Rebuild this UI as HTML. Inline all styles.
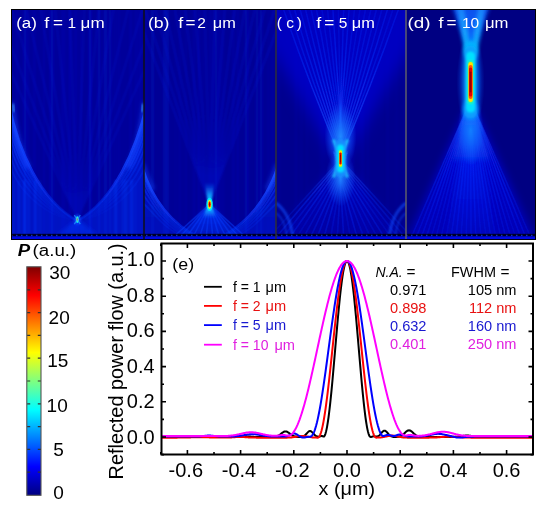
<!DOCTYPE html>
<html><head><meta charset="utf-8"><style>
html,body{margin:0;padding:0;background:#fff;width:550px;height:505px;overflow:hidden}
svg{display:block}
text{font-family:"Liberation Sans",sans-serif}
</style></head><body>
<svg width="550" height="505" viewBox="0 0 550 505">
<defs>
<linearGradient id="jet" x1="0" y1="1" x2="0" y2="0">
<stop offset="0" stop-color="#000080"/>
<stop offset="0.125" stop-color="#0000ff"/>
<stop offset="0.375" stop-color="#00ffff"/>
<stop offset="0.625" stop-color="#ffff00"/>
<stop offset="0.875" stop-color="#ff0000"/>
<stop offset="1" stop-color="#800000"/>
</linearGradient>
<filter id="b1" x="-50%" y="-50%" width="200%" height="200%"><feGaussianBlur stdDeviation="1"/></filter>
<filter id="b2" x="-50%" y="-50%" width="200%" height="200%"><feGaussianBlur stdDeviation="2"/></filter>
<filter id="b4" x="-50%" y="-50%" width="200%" height="200%"><feGaussianBlur stdDeviation="4"/></filter>
<filter id="b8" x="-50%" y="-50%" width="200%" height="200%"><feGaussianBlur stdDeviation="8"/></filter>
<filter id="b05" x="-50%" y="-50%" width="200%" height="200%"><feGaussianBlur stdDeviation="0.5"/></filter>
<pattern id="stripes" x="0" y="0" width="7" height="10" patternUnits="userSpaceOnUse"><rect x="0" y="0" width="2" height="10" fill="#0010c8"/><rect x="4" y="0" width="1" height="10" fill="#0008b8"/></pattern>
<pattern id="dots" x="0" y="0" width="5" height="3" patternUnits="userSpaceOnUse"><rect x="0" y="0" width="5" height="3" fill="#000028"/><rect x="1" y="0.8" width="1.5" height="1.4" fill="#1030c0"/></pattern>
<clipPath id="ca"><rect x="12" y="10" width="132" height="229"/></clipPath>
<clipPath id="cb"><rect x="144" y="10" width="132" height="229"/></clipPath>
<clipPath id="cc"><rect x="276" y="10" width="130" height="229"/></clipPath>
<clipPath id="cd"><rect x="406" y="10" width="129" height="229"/></clipPath>
</defs>

<defs><linearGradient id="ga_v" gradientUnits="userSpaceOnUse" x1="0" y1="100" x2="0" y2="220"><stop offset="0" stop-color="#2050ff" stop-opacity="1"/><stop offset="0.55" stop-color="#1040ff" stop-opacity="0.75"/><stop offset="1" stop-color="#0838ff" stop-opacity="0.15"/></linearGradient><linearGradient id="ga_f" gradientUnits="userSpaceOnUse" x1="0" y1="110" x2="0" y2="236"><stop offset="0" stop-color="#0830ff" stop-opacity="0.4"/><stop offset="1" stop-color="#0830ff" stop-opacity="0.4"/></linearGradient><linearGradient id="ga_c" gradientUnits="userSpaceOnUse" x1="77.3" y1="219.6" x2="77.3" y2="236"><stop offset="0" stop-color="#0838ff" stop-opacity="0.7"/><stop offset="1" stop-color="#0838ff" stop-opacity="0.3"/></linearGradient><linearGradient id="gb_v" gradientUnits="userSpaceOnUse" x1="0" y1="165" x2="0" y2="236"><stop offset="0" stop-color="#2050ff" stop-opacity="1"/><stop offset="0.6" stop-color="#1040ff" stop-opacity="0.7"/><stop offset="1" stop-color="#0838ff" stop-opacity="0.35"/></linearGradient><linearGradient id="gb_f" gradientUnits="userSpaceOnUse" x1="0" y1="170" x2="0" y2="236"><stop offset="0" stop-color="#0830ff" stop-opacity="0.3"/><stop offset="1" stop-color="#0830ff" stop-opacity="0.35"/></linearGradient><linearGradient id="gb_c" gradientUnits="userSpaceOnUse" x1="209.6" y1="204.3" x2="209.6" y2="238"><stop offset="0" stop-color="#0838ff" stop-opacity="0.85"/><stop offset="1" stop-color="#0838ff" stop-opacity="0.35"/></linearGradient><linearGradient id="gb_hu" gradientUnits="userSpaceOnUse" x1="0" y1="204.3" x2="0" y2="182.3"><stop offset="0" stop-color="#00f0ff" stop-opacity="1"/><stop offset="0.45" stop-color="#10a0ff" stop-opacity="0.9"/><stop offset="1" stop-color="#1060ff" stop-opacity="0"/></linearGradient><linearGradient id="gb_hd" gradientUnits="userSpaceOnUse" x1="0" y1="204.3" x2="0" y2="218.3"><stop offset="0" stop-color="#00f0ff" stop-opacity="1"/><stop offset="0.5" stop-color="#10a0ff" stop-opacity="0.9"/><stop offset="1" stop-color="#1060ff" stop-opacity="0"/></linearGradient><linearGradient id="gc_uc" gradientUnits="userSpaceOnUse" x1="340.5" y1="166.5" x2="340.5" y2="0"><stop offset="0" stop-color="#0000e0" stop-opacity="0.7"/><stop offset="1" stop-color="#0000e0" stop-opacity="0.6"/></linearGradient><linearGradient id="gc_lc" gradientUnits="userSpaceOnUse" x1="340.5" y1="158.5" x2="340.5" y2="245"><stop offset="0" stop-color="#0008e0" stop-opacity="0.6"/><stop offset="1" stop-color="#0008e0" stop-opacity="0.2"/></linearGradient><linearGradient id="gc_u" gradientUnits="userSpaceOnUse" x1="0" y1="158.5" x2="0" y2="10"><stop offset="0" stop-color="#2468ff" stop-opacity="1"/><stop offset="0.4" stop-color="#1040ff" stop-opacity="0.8"/><stop offset="1" stop-color="#0828ff" stop-opacity="0.45"/></linearGradient><linearGradient id="gc_l" gradientUnits="userSpaceOnUse" x1="0" y1="158.5" x2="0" y2="240"><stop offset="0" stop-color="#2468ff" stop-opacity="1"/><stop offset="0.45" stop-color="#1038ff" stop-opacity="0.75"/><stop offset="1" stop-color="#0828ff" stop-opacity="0.5"/></linearGradient><radialGradient id="gc_g1" gradientUnits="userSpaceOnUse" cx="340.5" cy="136.5" r="16" gradientTransform="translate(340.5 136.5) scale(1 2.1250) translate(-340.5 -136.5)"><stop offset="0" stop-color="#2088ff" stop-opacity="1"/><stop offset="0.6" stop-color="#1468ff" stop-opacity="0.5"/><stop offset="1" stop-color="#1060ff" stop-opacity="0"/></radialGradient><radialGradient id="gc_g2" gradientUnits="userSpaceOnUse" cx="340.5" cy="178.5" r="15" gradientTransform="translate(340.5 178.5) scale(1 1.8667) translate(-340.5 -178.5)"><stop offset="0" stop-color="#2088ff" stop-opacity="0.9"/><stop offset="0.6" stop-color="#1468ff" stop-opacity="0.4"/><stop offset="1" stop-color="#1060ff" stop-opacity="0"/></radialGradient><linearGradient id="gd_l" gradientUnits="userSpaceOnUse" x1="470.6" y1="100" x2="470.6" y2="245"><stop offset="0" stop-color="#0004d4" stop-opacity="1"/><stop offset="1" stop-color="#0004d4" stop-opacity="0.6"/></linearGradient><linearGradient id="gd_lf" gradientUnits="userSpaceOnUse" x1="0" y1="100" x2="0" y2="240"><stop offset="0" stop-color="#2060ff" stop-opacity="1"/><stop offset="0.4" stop-color="#1030ff" stop-opacity="0.65"/><stop offset="1" stop-color="#0820ff" stop-opacity="0.35"/></linearGradient><linearGradient id="gd_l2" gradientUnits="userSpaceOnUse" x1="470.6" y1="100" x2="470.6" y2="245"><stop offset="0" stop-color="#0828ff" stop-opacity="0.8"/><stop offset="1" stop-color="#0828ff" stop-opacity="0.05"/></linearGradient><radialGradient id="gd_g1" gradientUnits="userSpaceOnUse" cx="470.6" cy="130" r="13" gradientTransform="translate(470.6 130) scale(1 2.7692) translate(-470.6 -130)"><stop offset="0" stop-color="#10a0ff" stop-opacity="0.9"/><stop offset="0.5" stop-color="#0870ff" stop-opacity="0.5"/><stop offset="1" stop-color="#0860ff" stop-opacity="0"/></radialGradient><linearGradient id="gd_b" gradientUnits="userSpaceOnUse" x1="470.6" y1="98" x2="470.6" y2="160"><stop offset="0" stop-color="#1870ff" stop-opacity="1"/><stop offset="1" stop-color="#1870ff" stop-opacity="0.2"/></linearGradient><linearGradient id="gd_u" gradientUnits="userSpaceOnUse" x1="470.6" y1="60" x2="470.6" y2="5"><stop offset="0" stop-color="#1060ff" stop-opacity="1"/><stop offset="1" stop-color="#1060ff" stop-opacity="0.85"/></linearGradient><linearGradient id="gd_arm" gradientUnits="userSpaceOnUse" x1="0" y1="8" x2="0" y2="58"><stop offset="0" stop-color="#2090ff" stop-opacity="0.9"/><stop offset="0.6" stop-color="#10b0ff" stop-opacity="1"/><stop offset="1" stop-color="#00e0ff" stop-opacity="1"/></linearGradient><radialGradient id="gd_g3" gradientUnits="userSpaceOnUse" cx="470.6" cy="82" r="14" gradientTransform="translate(470.6 82) scale(1 3.5714) translate(-470.6 -82)"><stop offset="0" stop-color="#0090ff" stop-opacity="0.9"/><stop offset="0.6" stop-color="#0070ff" stop-opacity="0.4"/><stop offset="1" stop-color="#0060ff" stop-opacity="0"/></radialGradient></defs>
<rect x="11" y="9" width="525" height="231" fill="#000"/>
<g clip-path="url(#ca)"><rect x="12" y="10" width="132" height="229" fill="#00009a"/><g filter="url(#b1)"><rect x="23.3" y="10" width="1.3" height="229" fill="#0014c8" opacity="0.31"/><rect x="43.3" y="10" width="1.4" height="229" fill="#0014c8" opacity="0.34"/><rect x="117.8" y="10" width="2.1" height="229" fill="#0014c8" opacity="0.20"/><rect x="88.8" y="10" width="2.2" height="229" fill="#0014c8" opacity="0.31"/><rect x="24.4" y="10" width="2" height="229" fill="#0014c8" opacity="0.36"/><rect x="69.2" y="10" width="1.6" height="229" fill="#0014c8" opacity="0.34"/><rect x="75.2" y="10" width="2.3" height="229" fill="#0014c8" opacity="0.18"/><rect x="33.1" y="10" width="2.3" height="229" fill="#0014c8" opacity="0.25"/><rect x="109" y="10" width="1.7" height="229" fill="#0014c8" opacity="0.19"/><rect x="27" y="10" width="2" height="229" fill="#0014c8" opacity="0.22"/><rect x="63.6" y="10" width="2.3" height="229" fill="#0014c8" opacity="0.22"/><rect x="80.2" y="10" width="1.8" height="229" fill="#0014c8" opacity="0.25"/><rect x="68.8" y="10" width="1.9" height="229" fill="#0014c8" opacity="0.20"/><rect x="89.5" y="10" width="1.3" height="229" fill="#0014c8" opacity="0.34"/><rect x="109.4" y="10" width="2.1" height="229" fill="#0014c8" opacity="0.29"/><rect x="138.2" y="10" width="2.4" height="229" fill="#0014c8" opacity="0.20"/><rect x="49.5" y="10" width="2.3" height="229" fill="#0014c8" opacity="0.19"/><rect x="97.6" y="10" width="2.4" height="229" fill="#0014c8" opacity="0.31"/><rect x="103.9" y="10" width="1.9" height="229" fill="#0014c8" opacity="0.39"/><rect x="50.6" y="10" width="2.2" height="229" fill="#0014c8" opacity="0.35"/><rect x="12.2" y="10" width="1.1" height="229" fill="#0014c8" opacity="0.24"/><rect x="140.5" y="10" width="1.1" height="229" fill="#0014c8" opacity="0.20"/><rect x="51.4" y="10" width="1.3" height="229" fill="#0014c8" opacity="0.36"/><rect x="53.4" y="10" width="1.2" height="229" fill="#0014c8" opacity="0.22"/><rect x="129.7" y="10" width="1.7" height="229" fill="#0014c8" opacity="0.36"/><rect x="89.2" y="10" width="2.4" height="229" fill="#0014c8" opacity="0.33"/><rect x="74.2" y="10" width="1.3" height="229" fill="#0014c8" opacity="0.29"/><rect x="114.1" y="10" width="2.1" height="229" fill="#0014c8" opacity="0.16"/><rect x="16" y="10" width="2" height="229" fill="#0014c8" opacity="0.24"/><rect x="105.3" y="10" width="1.9" height="229" fill="#0014c8" opacity="0.32"/><rect x="61.4" y="10" width="2" height="229" fill="#0014c8" opacity="0.28"/><rect x="24" y="10" width="1.8" height="229" fill="#0014c8" opacity="0.20"/><rect x="99.2" y="10" width="1.7" height="229" fill="#0014c8" opacity="0.18"/><rect x="135" y="10" width="1.7" height="229" fill="#0014c8" opacity="0.28"/></g><path d="M77.3,219.6L-40,-40M77.3,219.6L-22,-40M77.3,219.6L-4,-40M77.3,219.6L14,-40M77.3,219.6L32,-40M77.3,219.6L50,-40M77.3,219.6L68,-40M77.3,219.6L86,-40M77.3,219.6L104,-40M77.3,219.6L122,-40M77.3,219.6L140,-40M77.3,219.6L158,-40M77.3,219.6L176,-40M77.3,219.6L194,-40" stroke="#0018e0" stroke-width="1.5" opacity="0.3" fill="none" filter="url(#b1)"/><g fill="none" stroke="url(#ga_v)" filter="url(#b05)"><path d="M9,104 C18.0,150.0 40.0,200.0 77.3,220.6" stroke-width="2.6" opacity="1"/><path d="M147,104 C136.0,150.0 114.0,200.0 77.3,220.6" stroke-width="2.6" opacity="1"/><path d="M9,110 C17.7,154.2 40.6,201.8 77.3,220.6" stroke-width="1.8" opacity="0.75"/><path d="M147,110 C136.3,154.2 113.4,201.8 77.3,220.6" stroke-width="1.8" opacity="0.75"/><path d="M9,116 C17.4,158.4 41.2,203.6 77.3,220.6" stroke-width="1.8" opacity="0.6"/><path d="M147,116 C136.6,158.4 112.8,203.6 77.3,220.6" stroke-width="1.8" opacity="0.6"/><path d="M9,123 C17.05,163.3 41.9,205.7 77.3,220.6" stroke-width="1.8" opacity="0.55"/><path d="M147,123 C136.95,163.3 112.1,205.7 77.3,220.6" stroke-width="1.8" opacity="0.55"/><path d="M9,131 C16.65,168.9 42.7,208.1 77.3,220.6" stroke-width="1.8" opacity="0.5"/><path d="M147,131 C137.35,168.9 111.3,208.1 77.3,220.6" stroke-width="1.8" opacity="0.5"/><path d="M9,140 C16.2,175.2 43.6,210.8 77.3,220.6" stroke-width="1.8" opacity="0.45"/><path d="M147,140 C137.8,175.2 110.4,210.8 77.3,220.6" stroke-width="1.8" opacity="0.45"/><path d="M9,150 C15.7,182.2 44.6,213.8 77.3,220.6" stroke-width="1.8" opacity="0.4"/><path d="M147,150 C138.3,182.2 109.4,213.8 77.3,220.6" stroke-width="1.8" opacity="0.4"/><path d="M9,161 C15.15,189.9 45.7,217.1 77.3,220.6" stroke-width="1.8" opacity="0.35"/><path d="M147,161 C138.85,189.9 108.3,217.1 77.3,220.6" stroke-width="1.8" opacity="0.35"/></g><path d="M10,102 C14,130 18,150 28,168" stroke="#1848ff" stroke-width="7" opacity="0.55" fill="none" filter="url(#b2)"/><path d="M146,102 C142,130 138,150 128,168" stroke="#1848ff" stroke-width="7" opacity="0.55" fill="none" filter="url(#b2)"/><path d="M13,104 L14,112" stroke="#40a0ff" stroke-width="2" opacity="0.8" fill="none" filter="url(#b1)"/><path d="M143,104 L142,112" stroke="#40a0ff" stroke-width="2" opacity="0.8" fill="none" filter="url(#b1)"/><path d="M10,110 C16,150 38,200 77.3,221.6 L77.3,240 L10,240Z" fill="url(#ga_f)" filter="url(#b2)"/><path d="M146,110 C140,150 116,200 77.3,221.6 L77.3,240 L146,240Z" fill="url(#ga_f)" filter="url(#b2)"/><g filter="url(#b1)"><rect x="35.2" y="180" width="1.4" height="56" fill="#1040ff" opacity="0.27"/><rect x="23.8" y="180" width="1.3" height="56" fill="#1040ff" opacity="0.30"/><rect x="12.6" y="180" width="1.1" height="56" fill="#1040ff" opacity="0.31"/><rect x="27.8" y="180" width="1.9" height="56" fill="#1040ff" opacity="0.31"/><rect x="18.2" y="180" width="1.7" height="56" fill="#1040ff" opacity="0.39"/><rect x="34.2" y="180" width="1.8" height="56" fill="#1040ff" opacity="0.35"/><rect x="23.7" y="180" width="1.8" height="56" fill="#1040ff" opacity="0.36"/><rect x="23.4" y="180" width="1.3" height="56" fill="#1040ff" opacity="0.30"/><rect x="39.3" y="180" width="1.3" height="56" fill="#1040ff" opacity="0.25"/></g><g filter="url(#b1)"><rect x="130.3" y="180" width="1.2" height="56" fill="#1040ff" opacity="0.30"/><rect x="122.2" y="180" width="1.4" height="56" fill="#1040ff" opacity="0.33"/><rect x="131.8" y="180" width="1.3" height="56" fill="#1040ff" opacity="0.24"/><rect x="130.6" y="180" width="1.9" height="56" fill="#1040ff" opacity="0.25"/><rect x="115.3" y="180" width="1.1" height="56" fill="#1040ff" opacity="0.26"/><rect x="126.2" y="180" width="1.3" height="56" fill="#1040ff" opacity="0.25"/><rect x="124.5" y="180" width="1.5" height="56" fill="#1040ff" opacity="0.39"/><rect x="134.6" y="180" width="1.1" height="56" fill="#1040ff" opacity="0.28"/><rect x="114.8" y="180" width="1.7" height="56" fill="#1040ff" opacity="0.38"/></g><path d="M77.3,219.6 L55.3,236 L99.3,236Z" fill="url(#ga_c)" filter="url(#b2)"/><ellipse cx="77.3" cy="219.6" rx="3.5" ry="5.5" fill="#1050ff" opacity="0.6" filter="url(#b1)"/><ellipse cx="77.3" cy="219.6" rx="1.5" ry="3.4" fill="#00e0ff" opacity="1" filter="url(#b05)"/><ellipse cx="77.3" cy="219.6" rx="1" ry="2" fill="#d0ff30" opacity="1" filter="url(#b05)"/><ellipse cx="77.3" cy="219.6" rx="0.6" ry="1" fill="#ff3000" opacity="1" filter="url(#b05)"/><path d="M74.3,215.1 L80.3,224.1 M80.3,215.1 L74.3,224.1" stroke="#20a0ff" stroke-width="1.2" opacity="0.7" fill="none" filter="url(#b05)"/></g>
<g clip-path="url(#cb)"><rect x="144" y="10" width="132" height="229" fill="#000096"/><g filter="url(#b1)"><rect x="276" y="10" width="1" height="229" fill="#0014c8" opacity="0.24"/><rect x="163" y="10" width="2.2" height="229" fill="#0014c8" opacity="0.32"/><rect x="214.9" y="10" width="1.8" height="229" fill="#0014c8" opacity="0.32"/><rect x="260.3" y="10" width="2.3" height="229" fill="#0014c8" opacity="0.32"/><rect x="151" y="10" width="1.8" height="229" fill="#0014c8" opacity="0.29"/><rect x="221.7" y="10" width="2" height="229" fill="#0014c8" opacity="0.23"/><rect x="167" y="10" width="2" height="229" fill="#0014c8" opacity="0.30"/><rect x="245.4" y="10" width="2.2" height="229" fill="#0014c8" opacity="0.27"/><rect x="267.8" y="10" width="1" height="229" fill="#0014c8" opacity="0.28"/><rect x="215.1" y="10" width="2.3" height="229" fill="#0014c8" opacity="0.31"/><rect x="145.2" y="10" width="2" height="229" fill="#0014c8" opacity="0.25"/><rect x="152.5" y="10" width="1.5" height="229" fill="#0014c8" opacity="0.33"/><rect x="198.9" y="10" width="1.1" height="229" fill="#0014c8" opacity="0.37"/><rect x="255.8" y="10" width="2.3" height="229" fill="#0014c8" opacity="0.39"/><rect x="175.3" y="10" width="1.2" height="229" fill="#0014c8" opacity="0.18"/><rect x="232.3" y="10" width="2.3" height="229" fill="#0014c8" opacity="0.25"/><rect x="197.5" y="10" width="1.4" height="229" fill="#0014c8" opacity="0.25"/><rect x="179" y="10" width="2" height="229" fill="#0014c8" opacity="0.19"/><rect x="236.9" y="10" width="1.7" height="229" fill="#0014c8" opacity="0.32"/><rect x="184.7" y="10" width="2.1" height="229" fill="#0014c8" opacity="0.15"/><rect x="193.1" y="10" width="2.2" height="229" fill="#0014c8" opacity="0.26"/><rect x="245" y="10" width="1.7" height="229" fill="#0014c8" opacity="0.29"/><rect x="209.4" y="10" width="1.4" height="229" fill="#0014c8" opacity="0.37"/><rect x="247.5" y="10" width="1.3" height="229" fill="#0014c8" opacity="0.29"/><rect x="212.2" y="10" width="1.3" height="229" fill="#0014c8" opacity="0.30"/><rect x="165.1" y="10" width="2.4" height="229" fill="#0014c8" opacity="0.37"/><rect x="202.6" y="10" width="1.2" height="229" fill="#0014c8" opacity="0.31"/><rect x="259.2" y="10" width="2.3" height="229" fill="#0014c8" opacity="0.20"/><rect x="218.6" y="10" width="1.6" height="229" fill="#0014c8" opacity="0.33"/><rect x="271.4" y="10" width="2.1" height="229" fill="#0014c8" opacity="0.26"/></g><path d="M209.6,204.3L120,-30M209.6,204.3L132,-30M209.6,204.3L144,-30M209.6,204.3L156,-30M209.6,204.3L168,-30M209.6,204.3L180,-30M209.6,204.3L192,-30M209.6,204.3L204,-30M209.6,204.3L216,-30M209.6,204.3L228,-30M209.6,204.3L240,-30M209.6,204.3L252,-30M209.6,204.3L264,-30M209.6,204.3L276,-30M209.6,204.3L288,-30M209.6,204.3L300,-30" stroke="#0018e0" stroke-width="1.5" opacity="0.35" fill="none" filter="url(#b1)"/><g fill="none" stroke="url(#gb_v)" filter="url(#b05)"><path d="M142,166 C151.0,196.0 168.0,222.0 200.0,238" stroke-width="2.4" opacity="1"/><path d="M278,166 C268.0,196.0 251.0,222.0 219.0,238" stroke-width="2.4" opacity="1"/><path d="M142,172 C151.6,199.0 167.4,223.2 197.6,238" stroke-width="1.8" opacity="0.7"/><path d="M278,172 C267.4,199.0 251.6,223.2 221.4,238" stroke-width="1.8" opacity="0.7"/><path d="M142,178 C152.2,202.0 166.8,224.4 195.2,238" stroke-width="1.8" opacity="0.6"/><path d="M278,178 C266.8,202.0 252.2,224.4 223.8,238" stroke-width="1.8" opacity="0.6"/><path d="M142,185 C152.9,205.5 166.1,225.8 192.4,238" stroke-width="1.8" opacity="0.5"/><path d="M278,185 C266.1,205.5 252.9,225.8 226.6,238" stroke-width="1.8" opacity="0.5"/><path d="M142,193 C153.7,209.5 165.3,227.4 189.2,238" stroke-width="1.8" opacity="0.45"/><path d="M278,193 C265.3,209.5 253.7,227.4 229.8,238" stroke-width="1.8" opacity="0.45"/><path d="M142,202 C154.6,214.0 164.4,229.2 185.6,238" stroke-width="1.8" opacity="0.4"/><path d="M278,202 C264.4,214.0 254.6,229.2 233.4,238" stroke-width="1.8" opacity="0.4"/></g><path d="M142,172 C151,200 168,224 200,238 L142,238Z" fill="url(#gb_f)" filter="url(#b2)"/><path d="M278,172 C269,200 252,224 220,238 L278,238Z" fill="url(#gb_f)" filter="url(#b2)"/><path d="M142,164 Q147,178 153,190" stroke="#1848ff" stroke-width="5" opacity="0.5" fill="none" filter="url(#b2)"/><path d="M278,164 Q273,178 267,190" stroke="#1848ff" stroke-width="5" opacity="0.5" fill="none" filter="url(#b2)"/><path d="M209.6,204.3L170,240M209.6,204.3L177.2,240M209.6,204.3L184.4,240M209.6,204.3L191.5,240M209.6,204.3L198.7,240M209.6,204.3L205.9,240M209.6,204.3L213.1,240M209.6,204.3L220.3,240M209.6,204.3L227.5,240M209.6,204.3L234.6,240M209.6,204.3L241.8,240M209.6,204.3L249,240" stroke="#0840ff" stroke-width="1.6" opacity="0.45" fill="none" filter="url(#b05)"/><path d="M209.6,204.3 L177.6,238 L241.6,238Z" fill="url(#gb_c)" filter="url(#b2)"/><path d="M208.1,204.3 L204.6,182.3 L214.6,182.3 L211.1,204.3Z" fill="url(#gb_hu)" filter="url(#b1)"/><path d="M208.1,204.3 L202.6,218.3 L216.6,218.3 L211.1,204.3Z" fill="url(#gb_hd)" filter="url(#b1)"/><ellipse cx="209.6" cy="204.3" rx="3.2" ry="6.5" fill="#00e8ff" opacity="1" filter="url(#b05)"/><ellipse cx="209.6" cy="204.3" rx="1.8" ry="4.6" fill="#e0ff20" opacity="1" filter="url(#b05)"/><ellipse cx="209.6" cy="204.3" rx="1.2" ry="3" fill="#ff2000" opacity="1" filter="url(#b05)"/><ellipse cx="209.6" cy="204.3" rx="0.6" ry="2" fill="#a00000" opacity="1"/></g>
<g clip-path="url(#cc)"><rect x="276" y="10" width="130" height="229" fill="#00008e"/><g filter="url(#b1)"><rect x="359" y="10" width="1.4" height="229" fill="#0010c0" opacity="0.14"/><rect x="363" y="10" width="1.9" height="229" fill="#0010c0" opacity="0.20"/><rect x="321.9" y="10" width="2.2" height="229" fill="#0010c0" opacity="0.14"/><rect x="360.8" y="10" width="2.3" height="229" fill="#0010c0" opacity="0.19"/><rect x="351.1" y="10" width="2.2" height="229" fill="#0010c0" opacity="0.26"/><rect x="366.7" y="10" width="2.4" height="229" fill="#0010c0" opacity="0.20"/><rect x="342.5" y="10" width="1.9" height="229" fill="#0010c0" opacity="0.21"/><rect x="319.7" y="10" width="1.3" height="229" fill="#0010c0" opacity="0.20"/><rect x="332.5" y="10" width="2.4" height="229" fill="#0010c0" opacity="0.28"/><rect x="395.9" y="10" width="1" height="229" fill="#0010c0" opacity="0.23"/><rect x="300.4" y="10" width="1.5" height="229" fill="#0010c0" opacity="0.13"/><rect x="295.3" y="10" width="1.2" height="229" fill="#0010c0" opacity="0.26"/><rect x="277.6" y="10" width="2.4" height="229" fill="#0010c0" opacity="0.20"/><rect x="386.8" y="10" width="1.6" height="229" fill="#0010c0" opacity="0.20"/><rect x="404.5" y="10" width="2.2" height="229" fill="#0010c0" opacity="0.25"/><rect x="306.7" y="10" width="1.1" height="229" fill="#0010c0" opacity="0.14"/></g><path d="M340.5,166.5 L242,0 L439,0Z" fill="url(#gc_uc)" filter="url(#b8)"/><path d="M340.5,158.5 L270,245 L411,245Z" fill="url(#gc_lc)" filter="url(#b4)"/><g fill="none" filter="url(#b05)"><path d="M282,5Q309.7,85.8 344.4,166.5" stroke="url(#gc_u)" stroke-width="1.5" opacity="0.66"/><path d="M287.6,5Q312.7,84.4 344.1,163.9" stroke="url(#gc_u)" stroke-width="1.5" opacity="0.55"/><path d="M293.2,5Q315.7,82.6 343.8,160.2" stroke="url(#gc_u)" stroke-width="1.5" opacity="0.60"/><path d="M298.9,5Q318.7,80.5 343.5,156" stroke="url(#gc_u)" stroke-width="1.5" opacity="0.63"/><path d="M304.5,5Q321.6,78.3 343.1,151.5" stroke="url(#gc_u)" stroke-width="1.5" opacity="0.59"/><path d="M310.1,5Q324.6,75.9 342.8,146.8" stroke="url(#gc_u)" stroke-width="1.5" opacity="0.62"/><path d="M315.7,5Q327.6,73.5 342.5,141.9" stroke="url(#gc_u)" stroke-width="1.5" opacity="0.56"/><path d="M321.3,5Q330.6,70.9 342.1,136.8" stroke="url(#gc_u)" stroke-width="1.5" opacity="0.47"/><path d="M327,5Q333.5,68.3 341.7,131.6" stroke="url(#gc_u)" stroke-width="1.5" opacity="0.46"/><path d="M332.6,5Q336.4,65.6 341.2,126.3" stroke="url(#gc_u)" stroke-width="1.5" opacity="0.70"/><path d="M338.2,5Q339.3,62.9 340.7,120.8" stroke="url(#gc_u)" stroke-width="1.5" opacity="0.40"/><path d="M343.8,5Q342.2,63.4 340.2,121.8" stroke="url(#gc_u)" stroke-width="1.5" opacity="0.61"/><path d="M349.4,5Q345.1,66.1 339.7,127.2" stroke="url(#gc_u)" stroke-width="1.5" opacity="0.66"/><path d="M355,5Q348,68.8 339.3,132.6" stroke="url(#gc_u)" stroke-width="1.5" opacity="0.47"/><path d="M360.7,5Q351,71.4 338.9,137.8" stroke="url(#gc_u)" stroke-width="1.5" opacity="0.41"/><path d="M366.3,5Q353.9,73.9 338.5,142.8" stroke="url(#gc_u)" stroke-width="1.5" opacity="0.52"/><path d="M371.9,5Q356.9,76.3 338.1,147.7" stroke="url(#gc_u)" stroke-width="1.5" opacity="0.50"/><path d="M377.5,5Q359.9,78.7 337.8,152.3" stroke="url(#gc_u)" stroke-width="1.5" opacity="0.54"/><path d="M383.1,5Q362.9,80.9 337.5,156.8" stroke="url(#gc_u)" stroke-width="1.5" opacity="0.53"/><path d="M388.8,5Q365.9,82.9 337.2,160.9" stroke="url(#gc_u)" stroke-width="1.5" opacity="0.68"/><path d="M394.4,5Q368.9,84.7 336.9,164.5" stroke="url(#gc_u)" stroke-width="1.5" opacity="0.44"/><path d="M400,5Q371.9,85.8 336.6,166.5" stroke="url(#gc_u)" stroke-width="1.5" opacity="0.68"/></g><g fill="none" filter="url(#b05)"><path d="M262,245L347.8,151.5" stroke="url(#gc_l)" stroke-width="1.6" opacity="0.31"/><path d="M269.5,245L347.3,152.9" stroke="url(#gc_l)" stroke-width="1.6" opacity="0.53"/><path d="M277,245L346.7,154.9" stroke="url(#gc_l)" stroke-width="1.6" opacity="0.38"/><path d="M284.4,245L346.1,157.2" stroke="url(#gc_l)" stroke-width="1.6" opacity="0.48"/><path d="M291.9,245L345.5,159.6" stroke="url(#gc_l)" stroke-width="1.6" opacity="0.30"/><path d="M299.4,245L344.9,162.1" stroke="url(#gc_l)" stroke-width="1.6" opacity="0.41"/><path d="M306.9,245L344.2,164.7" stroke="url(#gc_l)" stroke-width="1.6" opacity="0.47"/><path d="M314.3,245L343.5,167.4" stroke="url(#gc_l)" stroke-width="1.6" opacity="0.46"/><path d="M321.8,245L342.7,170.2" stroke="url(#gc_l)" stroke-width="1.6" opacity="0.50"/><path d="M329.3,245L341.9,173.1" stroke="url(#gc_l)" stroke-width="1.6" opacity="0.34"/><path d="M336.8,245L341,176" stroke="url(#gc_l)" stroke-width="1.6" opacity="0.40"/><path d="M344.2,245L340,176" stroke="url(#gc_l)" stroke-width="1.6" opacity="0.45"/><path d="M351.7,245L339.1,173.1" stroke="url(#gc_l)" stroke-width="1.6" opacity="0.31"/><path d="M359.2,245L338.3,170.2" stroke="url(#gc_l)" stroke-width="1.6" opacity="0.51"/><path d="M366.7,245L337.5,167.4" stroke="url(#gc_l)" stroke-width="1.6" opacity="0.40"/><path d="M374.1,245L336.8,164.7" stroke="url(#gc_l)" stroke-width="1.6" opacity="0.36"/><path d="M381.6,245L336.1,162.1" stroke="url(#gc_l)" stroke-width="1.6" opacity="0.36"/><path d="M389.1,245L335.5,159.6" stroke="url(#gc_l)" stroke-width="1.6" opacity="0.46"/><path d="M396.6,245L334.9,157.2" stroke="url(#gc_l)" stroke-width="1.6" opacity="0.31"/><path d="M404,245L334.3,154.9" stroke="url(#gc_l)" stroke-width="1.6" opacity="0.36"/><path d="M411.5,245L333.7,152.9" stroke="url(#gc_l)" stroke-width="1.6" opacity="0.38"/><path d="M419,245L333.2,151.5" stroke="url(#gc_l)" stroke-width="1.6" opacity="0.36"/></g><path d="M276,203 Q291,214 293,240 M406,203 Q391,214 389,240" stroke="#1050ff" stroke-width="3" fill="none" opacity="0.6" filter="url(#b1)"/><path d="M276,213 Q286,220 287,240 M406,213 Q396,220 395,240" stroke="#1050ff" stroke-width="2" fill="none" opacity="0.45" filter="url(#b1)"/><ellipse cx="340.5" cy="136.5" rx="16" ry="34" fill="url(#gc_g1)"/><ellipse cx="340.5" cy="178.5" rx="15" ry="28" fill="url(#gc_g2)"/><path d="M333.5,139.5 L347.5,177.5 M347.5,139.5 L333.5,177.5" stroke="#20c8ff" stroke-width="3" opacity="0.85" fill="none" filter="url(#b1)"/><rect x="335" y="139.5" width="11" height="38" rx="5.5" fill="#1890ff" opacity="0.9" filter="url(#b1)"/><rect x="337" y="144.5" width="7" height="28" rx="3.5" fill="#00e0ff" opacity="1" filter="url(#b1)"/><rect x="338.7" y="149.5" width="3.6" height="18" rx="1.8" fill="#60ff60" opacity="0.9" filter="url(#b05)"/><rect x="339" y="150.5" width="3" height="16" rx="1.5" fill="#ffe000" opacity="1" filter="url(#b05)"/><rect x="339.4" y="152.5" width="2.2" height="12" rx="1.1" fill="#e00000" opacity="1" filter="url(#b05)"/><rect x="340" y="154.5" width="1" height="8" rx="0.5" fill="#900000" opacity="1"/></g>
<g clip-path="url(#cd)"><rect x="406" y="10" width="129" height="229" fill="#000082"/><path d="M470.6,100 L404,245 L538,245Z" fill="url(#gd_l)" filter="url(#b4)"/><g fill="none" filter="url(#b05)"><path d="M470.6,100L408,245" stroke="url(#gd_lf)" stroke-width="1.5" opacity="0.67"/><path d="M470.6,100L413.2,245" stroke="url(#gd_lf)" stroke-width="1.5" opacity="0.63"/><path d="M470.6,100L418.5,245" stroke="url(#gd_lf)" stroke-width="1.5" opacity="0.72"/><path d="M470.6,100L423.8,245" stroke="url(#gd_lf)" stroke-width="1.5" opacity="0.66"/><path d="M470.6,100L429,245" stroke="url(#gd_lf)" stroke-width="1.5" opacity="0.54"/><path d="M470.6,100L434.2,245" stroke="url(#gd_lf)" stroke-width="1.5" opacity="0.55"/><path d="M470.6,100L439.5,245" stroke="url(#gd_lf)" stroke-width="1.5" opacity="0.49"/><path d="M470.6,100L444.8,245" stroke="url(#gd_lf)" stroke-width="1.5" opacity="0.52"/><path d="M470.6,100L450,245" stroke="url(#gd_lf)" stroke-width="1.5" opacity="0.63"/><path d="M470.6,100L455.2,245" stroke="url(#gd_lf)" stroke-width="1.5" opacity="0.67"/><path d="M470.6,100L460.5,245" stroke="url(#gd_lf)" stroke-width="1.5" opacity="0.54"/><path d="M470.6,100L465.8,245" stroke="url(#gd_lf)" stroke-width="1.5" opacity="0.55"/><path d="M470.6,100L471,245" stroke="url(#gd_lf)" stroke-width="1.5" opacity="0.69"/><path d="M470.6,100L476.2,245" stroke="url(#gd_lf)" stroke-width="1.5" opacity="0.74"/><path d="M470.6,100L481.5,245" stroke="url(#gd_lf)" stroke-width="1.5" opacity="0.48"/><path d="M470.6,100L486.8,245" stroke="url(#gd_lf)" stroke-width="1.5" opacity="0.47"/><path d="M470.6,100L492,245" stroke="url(#gd_lf)" stroke-width="1.5" opacity="0.68"/><path d="M470.6,100L497.2,245" stroke="url(#gd_lf)" stroke-width="1.5" opacity="0.60"/><path d="M470.6,100L502.5,245" stroke="url(#gd_lf)" stroke-width="1.5" opacity="0.58"/><path d="M470.6,100L507.8,245" stroke="url(#gd_lf)" stroke-width="1.5" opacity="0.64"/><path d="M470.6,100L513,245" stroke="url(#gd_lf)" stroke-width="1.5" opacity="0.68"/><path d="M470.6,100L518.2,245" stroke="url(#gd_lf)" stroke-width="1.5" opacity="0.47"/><path d="M470.6,100L523.5,245" stroke="url(#gd_lf)" stroke-width="1.5" opacity="0.74"/><path d="M470.6,100L528.8,245" stroke="url(#gd_lf)" stroke-width="1.5" opacity="0.74"/><path d="M470.6,100L534,245" stroke="url(#gd_lf)" stroke-width="1.5" opacity="0.57"/></g><path d="M470.6,100 L445,245 L497,245Z" fill="url(#gd_l2)" filter="url(#b4)"/><ellipse cx="470.6" cy="130" rx="13" ry="36" fill="url(#gd_g1)"/><path d="M470.6,98 L452,160 L490,160Z" fill="url(#gd_b)" filter="url(#b2)"/><ellipse cx="470.6" cy="109" rx="6.5" ry="9" fill="#10c8ff" opacity="0.9" filter="url(#b2)"/><path d="M470.6,60 L452,5 L490,5Z" fill="url(#gd_u)" filter="url(#b2)"/><path d="M460,6 L469.5,58 M482,6 L472.5,58" stroke="url(#gd_arm)" stroke-width="6" fill="none" filter="url(#b2)"/><ellipse cx="470.6" cy="50" rx="6" ry="9" fill="#00d8ff" opacity="0.9" filter="url(#b2)"/><ellipse cx="470.6" cy="82" rx="14" ry="50" fill="url(#gd_g3)"/><rect x="464.1" y="45.5" width="13" height="73" rx="6.5" fill="#10a0ff" opacity="0.9" filter="url(#b2)"/><rect x="466.1" y="51.5" width="9" height="61" rx="4.5" fill="#00e0ff" opacity="1" filter="url(#b1)"/><rect x="468" y="60.5" width="5.2" height="43" rx="2.6" fill="#40ff80" opacity="0.9" filter="url(#b1)"/><rect x="468.3" y="62" width="4.6" height="40" rx="2.3" fill="#ffe000" opacity="1" filter="url(#b05)"/><rect x="468.7" y="65" width="3.8" height="34" rx="1.9" fill="#ff5000" opacity="1" filter="url(#b05)"/><rect x="469" y="67.5" width="3.2" height="29" rx="1.6" fill="#e00000" opacity="1" filter="url(#b05)"/><rect x="469.8" y="71.5" width="1.6" height="21" rx="0.8" fill="#900000" opacity="1" filter="url(#b05)"/></g>
<rect x="12" y="233.8" width="523" height="2.7" fill="url(#dots)"/>
<rect x="12" y="236.5" width="523" height="2.6" fill="#0008e8"/>
<!-- separators -->
<rect x="143.3" y="10" width="1.4" height="229" fill="#111"/>
<rect x="275.3" y="10" width="1.4" height="229" fill="#333"/>
<rect x="405.3" y="10" width="1.4" height="229" fill="#666"/>

<!-- panel labels -->
<g fill="#fff" font-size="15.5">
<text x="16.2" y="27.8" textLength="20.7" lengthAdjust="spacingAndGlyphs">(a)</text><text x="44.3" y="27.8" textLength="5" lengthAdjust="spacingAndGlyphs">f</text><text x="53.0" y="27.8" textLength="10" lengthAdjust="spacingAndGlyphs">=</text><text x="67.6" y="27.8">1</text><text x="80.6" y="27.8" textLength="24" lengthAdjust="spacingAndGlyphs">μm</text>
<text x="147.9" y="27.8" textLength="21.6" lengthAdjust="spacingAndGlyphs">(b)</text><text x="178.2" y="27.8" textLength="5" lengthAdjust="spacingAndGlyphs">f</text><text x="185.4" y="27.8" textLength="10" lengthAdjust="spacingAndGlyphs">=</text><text x="197.3" y="27.8">2</text><text x="212.8" y="27.8" textLength="23" lengthAdjust="spacingAndGlyphs">μm</text>
<text x="276.7" y="27.8">(</text><text x="286.3" y="27.8">c</text><text x="296.8" y="27.8">)</text><text x="316.3" y="27.8" textLength="5" lengthAdjust="spacingAndGlyphs">f</text><text x="324.3" y="27.8" textLength="10" lengthAdjust="spacingAndGlyphs">=</text><text x="338.8" y="27.8">5</text><text x="351.8" y="27.8" textLength="23" lengthAdjust="spacingAndGlyphs">μm</text>
<text x="407.5" y="27.8" textLength="23" lengthAdjust="spacingAndGlyphs">(d)</text><text x="438.5" y="27.8" textLength="5" lengthAdjust="spacingAndGlyphs">f</text><text x="446.5" y="27.8" textLength="10" lengthAdjust="spacingAndGlyphs">=</text><text x="462" y="27.8">10</text><text x="485" y="27.8" textLength="23.5" lengthAdjust="spacingAndGlyphs">μm</text>
</g>

<!-- ===== colorbar ===== -->
<text x="17.8" y="256" font-size="16" font-weight="bold" font-style="italic" textLength="12.4" lengthAdjust="spacingAndGlyphs">P</text><text x="32.6" y="256" font-size="16" textLength="43.6" lengthAdjust="spacingAndGlyphs">(a.u.)</text>
<rect x="26.8" y="266.8" width="14.2" height="228.5" fill="url(#jet)" stroke="#555" stroke-width="1.1"/>
<path d="M27.2,289.8h3M40.8,289.8h-3M27.2,312.6h3M40.8,312.6h-3M27.2,335.4h3M40.8,335.4h-3M27.2,358.2h3M40.8,358.2h-3M27.2,381.0h3M40.8,381.0h-3M27.2,403.8h3M40.8,403.8h-3M27.2,426.6h3M40.8,426.6h-3M27.2,449.4h3M40.8,449.4h-3M27.2,472.2h3M40.8,472.2h-3" stroke="#333" stroke-width="1.2" fill="none"/>
<g font-size="19">
<text x="49.2" y="279.4">30</text>
<text x="48.6" y="324.3">20</text>
<text x="47.2" y="367.3">15</text>
<text x="46.6" y="412.1">10</text>
<text x="53.3" y="455.7">5</text>
<text x="53.3" y="499.1">0</text>
</g>

<!-- ===== plot (e) ===== -->
<g fill="none" stroke-linejoin="round">
<polyline points="161.0,437.0 161.5,437.0 162.0,437.0 162.5,437.0 163.0,437.0 163.5,437.0 164.0,437.0 164.5,437.0 165.0,437.0 165.5,437.0 166.0,437.0 166.5,437.0 167.0,437.0 167.5,437.0 168.0,437.0 168.5,437.0 169.0,437.0 169.5,437.0 170.0,437.0 170.5,437.0 171.0,437.0 171.5,437.0 172.0,437.0 172.5,437.0 173.0,437.0 173.5,437.0 174.0,437.0 174.5,437.0 175.0,437.0 175.5,437.0 176.0,437.0 176.5,437.0 177.0,437.0 177.5,437.0 178.0,437.0 178.5,437.0 179.0,437.0 179.5,437.0 180.0,437.0 180.5,437.0 181.0,437.0 181.5,437.0 182.0,437.0 182.5,437.0 183.0,437.0 183.5,437.0 184.0,437.0 184.5,437.0 185.0,437.0 185.5,437.0 186.0,437.0 186.5,437.0 187.0,437.0 187.5,437.0 188.0,437.0 188.5,437.0 189.0,437.0 189.5,437.0 190.0,437.0 190.5,437.0 191.0,437.0 191.5,437.0 192.0,437.0 192.5,437.0 193.0,437.0 193.5,437.0 194.0,437.0 194.5,437.0 195.0,437.0 195.5,437.0 196.0,437.0 196.5,437.0 197.0,437.0 197.5,437.0 198.0,437.0 198.5,437.0 199.0,437.0 199.5,437.0 200.0,437.0 200.5,437.0 201.0,437.0 201.5,437.0 202.0,437.0 202.5,437.0 203.0,437.0 203.5,437.0 204.0,437.0 204.5,437.0 205.0,437.0 205.5,437.0 206.0,437.0 206.5,437.0 207.0,437.0 207.5,437.0 208.0,437.0 208.5,437.0 209.0,437.0 209.5,437.0 210.0,437.0 210.5,437.0 211.0,437.0 211.5,437.0 212.0,437.0 212.5,437.0 213.0,437.0 213.5,437.0 214.0,437.0 214.5,437.0 215.0,437.0 215.5,437.0 216.0,437.0 216.5,437.0 217.0,437.0 217.5,437.0 218.0,437.0 218.5,437.0 219.0,437.0 219.5,437.0 220.0,437.0 220.5,437.0 221.0,437.0 221.5,437.0 222.0,437.0 222.5,437.0 223.0,436.9 223.5,436.9 224.0,436.9 224.5,436.9 225.0,436.9 225.5,436.9 226.0,436.9 226.5,436.8 227.0,436.8 227.5,436.8 228.0,436.7 228.5,436.7 229.0,436.7 229.5,436.6 230.0,436.6 230.5,436.6 231.0,436.5 231.5,436.5 232.0,436.4 232.5,436.4 233.0,436.4 233.5,436.3 234.0,436.3 234.5,436.2 235.0,436.2 235.5,436.1 236.0,436.1 236.5,436.1 237.0,436.0 237.5,436.0 238.0,436.0 238.5,436.0 239.0,436.0 239.5,435.9 240.0,435.9 240.5,435.9 241.0,436.0 241.5,436.0 242.0,436.0 242.5,436.0 243.0,436.0 243.5,436.1 244.0,436.1 244.5,436.1 245.0,436.2 245.5,436.2 246.0,436.3 246.5,436.3 247.0,436.4 247.5,436.4 248.0,436.4 248.5,436.5 249.0,436.5 249.5,436.6 250.0,436.6 250.5,436.6 251.0,436.7 251.5,436.7 252.0,436.7 252.5,436.8 253.0,436.8 253.5,436.8 254.0,436.9 254.5,436.9 255.0,436.9 255.5,436.9 256.0,436.9 256.5,436.9 257.0,436.9 257.5,437.0 258.0,437.0 258.5,437.0 259.0,437.0 259.5,437.0 260.0,437.0 260.5,437.0 261.0,437.0 261.5,437.0 262.0,437.0 262.5,437.0 263.0,437.0 263.5,437.0 264.0,437.0 264.5,437.0 265.0,437.0 265.5,437.0 266.0,437.0 266.5,437.0 267.0,437.0 267.5,437.0 268.0,437.0 268.5,437.0 269.0,437.0 269.5,437.0 270.0,437.0 270.5,437.0 271.0,437.0 271.5,437.0 272.0,437.0 272.5,436.9 273.0,436.9 273.5,436.9 274.0,436.9 274.5,436.8 275.0,436.7 275.5,436.6 276.0,436.5 276.5,436.4 277.0,436.2 277.5,436.0 278.0,435.8 278.5,435.6 279.0,435.3 279.5,434.9 280.0,434.6 280.5,434.2 281.0,433.8 281.5,433.4 282.0,433.0 282.5,432.6 283.0,432.3 283.5,432.0 284.0,431.7 284.5,431.5 285.0,431.4 285.5,431.4 286.0,431.4 286.5,431.5 287.0,431.7 287.5,432.0 288.0,432.3 288.5,432.6 289.0,433.0 289.5,433.4 290.0,433.8 290.5,434.2 291.0,434.6 291.5,434.9 292.0,435.3 292.5,435.6 293.0,435.8 293.5,436.0 294.0,436.2 294.5,436.4 295.0,436.5 295.5,436.6 296.0,436.7 296.5,436.8 297.0,436.9 297.5,436.9 298.0,436.9 298.5,436.9 299.0,436.9 299.5,436.9 300.0,436.9 300.5,436.9 301.0,436.9 301.5,436.8 302.0,436.7 302.5,436.6 303.0,436.5 303.5,436.3 304.0,436.0 304.5,435.7 305.0,435.3 305.5,434.8 306.0,434.3 306.5,433.7 307.0,433.2 307.5,432.6 308.0,432.1 308.5,431.6 309.0,431.3 309.5,431.1 310.0,431.0 310.5,431.1 311.0,431.3 311.5,431.6 312.0,432.1 312.5,432.6 313.0,433.2 313.5,433.7 314.0,434.3 314.5,434.8 315.0,435.3 315.5,435.7 316.0,436.0 316.5,436.3 317.0,436.5 317.5,436.6 318.0,436.7 318.5,436.7 319.0,436.7 319.5,436.5 320.0,436.4 320.5,436.2 321.0,436.0 321.5,435.9 322.0,436.0 322.5,436.2 323.0,436.4 323.5,436.6 324.0,436.5 324.5,435.9 325.0,435.0 325.5,433.6 326.0,431.8 326.5,429.6 327.0,427.1 327.5,424.2 328.0,421.0 328.5,417.5 329.0,413.7 329.5,409.5 330.0,405.2 330.5,400.5 331.0,395.7 331.5,390.6 332.0,385.4 332.5,380.0 333.0,374.4 333.5,368.7 334.0,363.0 334.5,357.2 335.0,351.3 335.5,345.5 336.0,339.6 336.5,333.8 337.0,328.1 337.5,322.5 338.0,317.0 338.5,311.6 339.0,306.4 339.5,301.3 340.0,296.5 340.5,291.9 341.0,287.6 341.5,283.6 342.0,279.8 342.5,276.3 343.0,273.2 343.5,270.4 344.0,267.9 344.5,265.8 345.0,264.1 345.5,262.7 346.0,261.8 346.5,261.2 347.0,261.0 347.5,261.2 348.0,261.8 348.5,262.7 349.0,264.1 349.5,265.8 350.0,267.9 350.5,270.4 351.0,273.2 351.5,276.3 352.0,279.8 352.5,283.6 353.0,287.6 353.5,291.9 354.0,296.5 354.5,301.3 355.0,306.4 355.5,311.6 356.0,317.0 356.5,322.5 357.0,328.1 357.5,333.8 358.0,339.6 358.5,345.5 359.0,351.3 359.5,357.2 360.0,363.0 360.5,368.7 361.0,374.4 361.5,380.0 362.0,385.4 362.5,390.6 363.0,395.7 363.5,400.5 364.0,405.2 364.5,409.5 365.0,413.7 365.5,417.5 366.0,421.0 366.5,424.2 367.0,427.1 367.5,429.6 368.0,431.8 368.5,433.6 369.0,435.0 369.5,436.1 370.0,436.7 370.5,437.0 371.0,436.9 371.5,436.9 372.0,436.7 372.5,436.6 373.0,436.4 373.5,436.3 374.0,436.3 374.5,436.3 375.0,436.4 375.5,436.5 376.0,436.6 376.5,436.6 377.0,436.5 377.5,436.4 378.0,436.2 378.5,435.9 379.0,435.6 379.5,435.2 380.0,434.7 380.5,434.1 381.0,433.5 381.5,432.9 382.0,432.3 382.5,431.8 383.0,431.3 383.5,431.0 384.0,430.7 384.5,430.7 385.0,430.7 385.5,431.0 386.0,431.3 386.5,431.8 387.0,432.3 387.5,432.9 388.0,433.5 388.5,434.1 389.0,434.7 389.5,435.2 390.0,435.6 390.5,435.9 391.0,436.2 391.5,436.4 392.0,436.6 392.5,436.7 393.0,436.8 393.5,436.9 394.0,436.9 394.5,436.9 395.0,436.9 395.5,436.9 396.0,436.9 396.5,436.9 397.0,436.9 397.5,436.8 398.0,436.8 398.5,436.7 399.0,436.6 399.5,436.5 400.0,436.3 400.5,436.1 401.0,435.9 401.5,435.6 402.0,435.3 402.5,434.9 403.0,434.5 403.5,434.1 404.0,433.7 404.5,433.2 405.0,432.7 405.5,432.2 406.0,431.8 406.5,431.4 407.0,431.0 407.5,430.7 408.0,430.5 408.5,430.4 409.0,430.3 409.5,430.4 410.0,430.5 410.5,430.7 411.0,431.0 411.5,431.4 412.0,431.8 412.5,432.2 413.0,432.7 413.5,433.2 414.0,433.7 414.5,434.1 415.0,434.5 415.5,434.9 416.0,435.3 416.5,435.6 417.0,435.9 417.5,436.1 418.0,436.3 418.5,436.5 419.0,436.6 419.5,436.7 420.0,436.8 420.5,436.8 421.0,436.9 421.5,436.9 422.0,436.9 422.5,437.0 423.0,437.0 423.5,437.0 424.0,437.0 424.5,437.0 425.0,437.0 425.5,437.0 426.0,437.0 426.5,437.0 427.0,437.0 427.5,437.0 428.0,437.0 428.5,437.0 429.0,437.0 429.5,437.0 430.0,437.0 430.5,437.0 431.0,437.0 431.5,437.0 432.0,437.0 432.5,437.0 433.0,437.0 433.5,437.0 434.0,437.0 434.5,437.0 435.0,437.0 435.5,437.0 436.0,437.0 436.5,437.0 437.0,437.0 437.5,437.0 438.0,437.0 438.5,437.0 439.0,437.0 439.5,437.0 440.0,437.0 440.5,437.0 441.0,437.0 441.5,437.0 442.0,437.0 442.5,437.0 443.0,437.0 443.5,437.0 444.0,437.0 444.5,437.0 445.0,437.0 445.5,437.0 446.0,437.0 446.5,437.0 447.0,437.0 447.5,437.0 448.0,437.0 448.5,437.0 449.0,437.0 449.5,437.0 450.0,437.0 450.5,437.0 451.0,437.0 451.5,437.0 452.0,437.0 452.5,436.9 453.0,436.9 453.5,436.9 454.0,436.9 454.5,436.9 455.0,436.9 455.5,436.8 456.0,436.8 456.5,436.7 457.0,436.7 457.5,436.7 458.0,436.6 458.5,436.5 459.0,436.5 459.5,436.4 460.0,436.3 460.5,436.3 461.0,436.2 461.5,436.1 462.0,436.0 462.5,436.0 463.0,435.9 463.5,435.8 464.0,435.8 464.5,435.7 465.0,435.7 465.5,435.6 466.0,435.6 466.5,435.6 467.0,435.6 467.5,435.6 468.0,435.6 468.5,435.6 469.0,435.7 469.5,435.7 470.0,435.8 470.5,435.8 471.0,435.9 471.5,436.0 472.0,436.0 472.5,436.1 473.0,436.2 473.5,436.3 474.0,436.3 474.5,436.4 475.0,436.5 475.5,436.5 476.0,436.6 476.5,436.7 477.0,436.7 477.5,436.7 478.0,436.8 478.5,436.8 479.0,436.9 479.5,436.9 480.0,436.9 480.5,436.9 481.0,436.9 481.5,436.9 482.0,437.0 482.5,437.0 483.0,437.0 483.5,437.0 484.0,437.0 484.5,437.0 485.0,437.0 485.5,437.0 486.0,437.0 486.5,437.0 487.0,437.0 487.5,437.0 488.0,437.0 488.5,437.0 489.0,437.0 489.5,437.0 490.0,437.0 490.5,437.0 491.0,437.0 491.5,437.0 492.0,437.0 492.5,437.0 493.0,437.0 493.5,437.0 494.0,437.0 494.5,437.0 495.0,437.0 495.5,437.0 496.0,437.0 496.5,437.0 497.0,437.0 497.5,437.0 498.0,437.0 498.5,437.0 499.0,437.0 499.5,437.0 500.0,437.0 500.5,437.0 501.0,437.0 501.5,437.0 502.0,437.0 502.5,437.0 503.0,437.0 503.5,437.0 504.0,437.0 504.5,437.0 505.0,437.0 505.5,437.0 506.0,437.0 506.5,437.0 507.0,437.0 507.5,437.0 508.0,437.0 508.5,437.0 509.0,437.0 509.5,437.0 510.0,437.0 510.5,437.0 511.0,437.0 511.5,437.0 512.0,437.0 512.5,437.0 513.0,437.0 513.5,437.0 514.0,437.0 514.5,437.0 515.0,437.0 515.5,437.0 516.0,437.0 516.5,437.0 517.0,437.0 517.5,437.0 518.0,437.0 518.5,437.0 519.0,437.0 519.5,437.0 520.0,437.0 520.5,437.0 521.0,437.0 521.5,437.0 522.0,437.0 522.5,437.0 523.0,437.0 523.5,437.0 524.0,437.0 524.5,437.0 525.0,437.0 525.5,437.0 526.0,437.0 526.5,437.0 527.0,437.0 527.5,437.0 528.0,437.0 528.5,437.0 529.0,437.0 529.5,437.0 530.0,437.0 530.5,437.0 531.0,437.0 531.5,437.0 532.0,437.0 532.5,437.0 533.0,437.0" stroke="#000" stroke-width="2"/>
<polyline points="161.0,437.7 161.5,437.7 162.0,437.7 162.5,437.7 163.0,437.7 163.5,437.7 164.0,437.7 164.5,437.7 165.0,437.7 165.5,437.7 166.0,437.7 166.5,437.7 167.0,437.7 167.5,437.7 168.0,437.7 168.5,437.7 169.0,437.7 169.5,437.7 170.0,437.7 170.5,437.7 171.0,437.7 171.5,437.7 172.0,437.7 172.5,437.7 173.0,437.7 173.5,437.7 174.0,437.7 174.5,437.7 175.0,437.7 175.5,437.7 176.0,437.7 176.5,437.7 177.0,437.7 177.5,437.6 178.0,437.6 178.5,437.6 179.0,437.6 179.5,437.6 180.0,437.6 180.5,437.6 181.0,437.6 181.5,437.6 182.0,437.6 182.5,437.6 183.0,437.6 183.5,437.5 184.0,437.5 184.5,437.5 185.0,437.5 185.5,437.5 186.0,437.5 186.5,437.5 187.0,437.5 187.5,437.4 188.0,437.4 188.5,437.4 189.0,437.4 189.5,437.4 190.0,437.4 190.5,437.4 191.0,437.3 191.5,437.3 192.0,437.3 192.5,437.3 193.0,437.3 193.5,437.3 194.0,437.3 194.5,437.2 195.0,437.2 195.5,437.2 196.0,437.2 196.5,437.2 197.0,437.2 197.5,437.2 198.0,437.2 198.5,437.2 199.0,437.2 199.5,437.2 200.0,437.2 200.5,437.2 201.0,437.2 201.5,437.2 202.0,437.2 202.5,437.2 203.0,437.2 203.5,437.2 204.0,437.2 204.5,437.2 205.0,437.2 205.5,437.2 206.0,437.3 206.5,437.3 207.0,437.3 207.5,437.3 208.0,437.3 208.5,437.3 209.0,437.3 209.5,437.4 210.0,437.4 210.5,437.4 211.0,437.4 211.5,437.4 212.0,437.4 212.5,437.4 213.0,437.5 213.5,437.5 214.0,437.5 214.5,437.5 215.0,437.5 215.5,437.5 216.0,437.5 216.5,437.5 217.0,437.6 217.5,437.6 218.0,437.6 218.5,437.6 219.0,437.6 219.5,437.6 220.0,437.6 220.5,437.6 221.0,437.6 221.5,437.6 222.0,437.6 222.5,437.6 223.0,437.6 223.5,437.6 224.0,437.6 224.5,437.6 225.0,437.6 225.5,437.6 226.0,437.6 226.5,437.6 227.0,437.6 227.5,437.5 228.0,437.5 228.5,437.5 229.0,437.5 229.5,437.5 230.0,437.4 230.5,437.4 231.0,437.4 231.5,437.4 232.0,437.3 232.5,437.3 233.0,437.3 233.5,437.2 234.0,437.2 234.5,437.2 235.0,437.2 235.5,437.1 236.0,437.1 236.5,437.1 237.0,437.1 237.5,437.0 238.0,437.0 238.5,437.0 239.0,437.0 239.5,437.0 240.0,437.0 240.5,437.0 241.0,437.0 241.5,437.0 242.0,437.0 242.5,437.0 243.0,437.1 243.5,437.1 244.0,437.1 244.5,437.1 245.0,437.2 245.5,437.2 246.0,437.2 246.5,437.2 247.0,437.3 247.5,437.3 248.0,437.3 248.5,437.4 249.0,437.4 249.5,437.4 250.0,437.4 250.5,437.5 251.0,437.5 251.5,437.5 252.0,437.5 252.5,437.6 253.0,437.6 253.5,437.6 254.0,437.6 254.5,437.6 255.0,437.6 255.5,437.6 256.0,437.6 256.5,437.7 257.0,437.7 257.5,437.7 258.0,437.7 258.5,437.7 259.0,437.7 259.5,437.7 260.0,437.7 260.5,437.7 261.0,437.7 261.5,437.7 262.0,437.7 262.5,437.7 263.0,437.7 263.5,437.7 264.0,437.7 264.5,437.7 265.0,437.7 265.5,437.7 266.0,437.7 266.5,437.7 267.0,437.7 267.5,437.7 268.0,437.7 268.5,437.7 269.0,437.7 269.5,437.7 270.0,437.7 270.5,437.7 271.0,437.7 271.5,437.7 272.0,437.7 272.5,437.7 273.0,437.7 273.5,437.7 274.0,437.7 274.5,437.7 275.0,437.7 275.5,437.7 276.0,437.7 276.5,437.7 277.0,437.7 277.5,437.7 278.0,437.7 278.5,437.7 279.0,437.7 279.5,437.7 280.0,437.7 280.5,437.7 281.0,437.7 281.5,437.7 282.0,437.7 282.5,437.7 283.0,437.7 283.5,437.7 284.0,437.7 284.5,437.7 285.0,437.7 285.5,437.7 286.0,437.7 286.5,437.7 287.0,437.7 287.5,437.6 288.0,437.6 288.5,437.6 289.0,437.6 289.5,437.6 290.0,437.5 290.5,437.5 291.0,437.4 291.5,437.4 292.0,437.3 292.5,437.3 293.0,437.2 293.5,437.1 294.0,437.1 294.5,437.0 295.0,436.9 295.5,436.8 296.0,436.7 296.5,436.6 297.0,436.5 297.5,436.4 298.0,436.3 298.5,436.3 299.0,436.2 299.5,436.1 300.0,436.1 300.5,436.0 301.0,436.0 301.5,436.0 302.0,435.9 302.5,436.0 303.0,436.0 303.5,436.0 304.0,436.1 304.5,436.1 305.0,436.2 305.5,436.3 306.0,436.3 306.5,436.4 307.0,436.5 307.5,436.6 308.0,436.7 308.5,436.8 309.0,436.9 309.5,437.0 310.0,437.1 310.5,437.1 311.0,437.2 311.5,437.3 312.0,437.3 312.5,437.4 313.0,437.4 313.5,437.5 314.0,437.5 314.5,437.6 315.0,437.6 315.5,437.6 316.0,437.6 316.5,437.6 317.0,437.7 317.5,437.7 318.0,437.7 318.5,437.4 319.0,436.9 319.5,436.2 320.0,435.2 320.5,434.0 321.0,432.5 321.5,430.8 322.0,428.8 322.5,426.6 323.0,424.2 323.5,421.6 324.0,418.8 324.5,415.7 325.0,412.5 325.5,409.1 326.0,405.5 326.5,401.7 327.0,397.8 327.5,393.8 328.0,389.6 328.5,385.3 329.0,381.0 329.5,376.5 330.0,371.9 330.5,367.3 331.0,362.6 331.5,357.9 332.0,353.2 332.5,348.4 333.0,343.7 333.5,338.9 334.0,334.2 334.5,329.6 335.0,325.0 335.5,320.4 336.0,316.0 336.5,311.6 337.0,307.4 337.5,303.3 338.0,299.3 338.5,295.4 339.0,291.8 339.5,288.2 340.0,284.9 340.5,281.7 341.0,278.8 341.5,276.0 342.0,273.5 342.5,271.2 343.0,269.1 343.5,267.2 344.0,265.6 344.5,264.2 345.0,263.0 345.5,262.1 346.0,261.5 346.5,261.1 347.0,261.0 347.5,261.1 348.0,261.5 348.5,262.1 349.0,263.0 349.5,264.2 350.0,265.6 350.5,267.2 351.0,269.1 351.5,271.2 352.0,273.5 352.5,276.0 353.0,278.8 353.5,281.7 354.0,284.9 354.5,288.2 355.0,291.8 355.5,295.4 356.0,299.3 356.5,303.3 357.0,307.4 357.5,311.6 358.0,316.0 358.5,320.4 359.0,325.0 359.5,329.6 360.0,334.2 360.5,338.9 361.0,343.7 361.5,348.4 362.0,353.2 362.5,357.9 363.0,362.6 363.5,367.3 364.0,371.9 364.5,376.5 365.0,381.0 365.5,385.3 366.0,389.6 366.5,393.8 367.0,397.8 367.5,401.7 368.0,405.5 368.5,409.1 369.0,412.5 369.5,415.7 370.0,418.8 370.5,421.6 371.0,424.2 371.5,426.6 372.0,428.8 372.5,430.8 373.0,432.5 373.5,434.0 374.0,435.2 374.5,436.2 375.0,436.9 375.5,437.4 376.0,437.6 376.5,437.7 377.0,437.6 377.5,437.6 378.0,437.6 378.5,437.6 379.0,437.6 379.5,437.5 380.0,437.5 380.5,437.4 381.0,437.4 381.5,437.3 382.0,437.3 382.5,437.2 383.0,437.1 383.5,437.0 384.0,436.9 384.5,436.8 385.0,436.7 385.5,436.6 386.0,436.5 386.5,436.4 387.0,436.3 387.5,436.2 388.0,436.1 388.5,436.0 389.0,435.9 389.5,435.8 390.0,435.7 390.5,435.7 391.0,435.6 391.5,435.6 392.0,435.6 392.5,435.6 393.0,435.6 393.5,435.7 394.0,435.7 394.5,435.8 395.0,435.9 395.5,436.0 396.0,436.1 396.5,436.2 397.0,436.3 397.5,436.4 398.0,436.5 398.5,436.6 399.0,436.7 399.5,436.8 400.0,436.9 400.5,437.0 401.0,437.1 401.5,437.2 402.0,437.3 402.5,437.3 403.0,437.4 403.5,437.4 404.0,437.5 404.5,437.5 405.0,437.6 405.5,437.6 406.0,437.6 406.5,437.6 407.0,437.6 407.5,437.7 408.0,437.7 408.5,437.7 409.0,437.7 409.5,437.7 410.0,437.7 410.5,437.7 411.0,437.7 411.5,437.7 412.0,437.7 412.5,437.7 413.0,437.7 413.5,437.7 414.0,437.7 414.5,437.7 415.0,437.7 415.5,437.7 416.0,437.7 416.5,437.7 417.0,437.7 417.5,437.7 418.0,437.7 418.5,437.7 419.0,437.7 419.5,437.7 420.0,437.7 420.5,437.7 421.0,437.7 421.5,437.7 422.0,437.7 422.5,437.7 423.0,437.7 423.5,437.7 424.0,437.7 424.5,437.7 425.0,437.7 425.5,437.7 426.0,437.7 426.5,437.7 427.0,437.7 427.5,437.7 428.0,437.7 428.5,437.7 429.0,437.7 429.5,437.6 430.0,437.6 430.5,437.6 431.0,437.6 431.5,437.6 432.0,437.6 432.5,437.6 433.0,437.6 433.5,437.5 434.0,437.5 434.5,437.5 435.0,437.5 435.5,437.5 436.0,437.4 436.5,437.4 437.0,437.4 437.5,437.3 438.0,437.3 438.5,437.3 439.0,437.2 439.5,437.2 440.0,437.2 440.5,437.1 441.0,437.1 441.5,437.1 442.0,437.0 442.5,437.0 443.0,437.0 443.5,436.9 444.0,436.9 444.5,436.8 445.0,436.8 445.5,436.8 446.0,436.8 446.5,436.7 447.0,436.7 447.5,436.7 448.0,436.7 448.5,436.7 449.0,436.7 449.5,436.6 450.0,436.6 450.5,436.6 451.0,436.7 451.5,436.7 452.0,436.7 452.5,436.7 453.0,436.7 453.5,436.7 454.0,436.8 454.5,436.8 455.0,436.8 455.5,436.8 456.0,436.9 456.5,436.9 457.0,437.0 457.5,437.0 458.0,437.0 458.5,437.1 459.0,437.1 459.5,437.1 460.0,437.2 460.5,437.2 461.0,437.2 461.5,437.3 462.0,437.3 462.5,437.3 463.0,437.4 463.5,437.4 464.0,437.4 464.5,437.5 465.0,437.5 465.5,437.5 466.0,437.5 466.5,437.5 467.0,437.6 467.5,437.6 468.0,437.6 468.5,437.6 469.0,437.6 469.5,437.6 470.0,437.6 470.5,437.6 471.0,437.7 471.5,437.7 472.0,437.7 472.5,437.7 473.0,437.7 473.5,437.7 474.0,437.7 474.5,437.7 475.0,437.7 475.5,437.7 476.0,437.7 476.5,437.7 477.0,437.7 477.5,437.7 478.0,437.7 478.5,437.7 479.0,437.7 479.5,437.7 480.0,437.7 480.5,437.7 481.0,437.7 481.5,437.7 482.0,437.7 482.5,437.7 483.0,437.7 483.5,437.7 484.0,437.7 484.5,437.7 485.0,437.7 485.5,437.7 486.0,437.7 486.5,437.7 487.0,437.7 487.5,437.7 488.0,437.7 488.5,437.7 489.0,437.7 489.5,437.7 490.0,437.7 490.5,437.7 491.0,437.7 491.5,437.7 492.0,437.7 492.5,437.7 493.0,437.7 493.5,437.7 494.0,437.7 494.5,437.7 495.0,437.7 495.5,437.7 496.0,437.7 496.5,437.7 497.0,437.7 497.5,437.7 498.0,437.7 498.5,437.7 499.0,437.7 499.5,437.7 500.0,437.7 500.5,437.7 501.0,437.7 501.5,437.7 502.0,437.7 502.5,437.7 503.0,437.7 503.5,437.7 504.0,437.7 504.5,437.7 505.0,437.7 505.5,437.7 506.0,437.7 506.5,437.7 507.0,437.7 507.5,437.7 508.0,437.7 508.5,437.7 509.0,437.7 509.5,437.7 510.0,437.7 510.5,437.7 511.0,437.7 511.5,437.7 512.0,437.7 512.5,437.7 513.0,437.7 513.5,437.7 514.0,437.7 514.5,437.7 515.0,437.7 515.5,437.7 516.0,437.7 516.5,437.7 517.0,437.7 517.5,437.7 518.0,437.7 518.5,437.7 519.0,437.7 519.5,437.7 520.0,437.7 520.5,437.7 521.0,437.7 521.5,437.7 522.0,437.7 522.5,437.7 523.0,437.7 523.5,437.7 524.0,437.7 524.5,437.7 525.0,437.7 525.5,437.7 526.0,437.7 526.5,437.7 527.0,437.7 527.5,437.7 528.0,437.7 528.5,437.7 529.0,437.7 529.5,437.7 530.0,437.7 530.5,437.7 531.0,437.7 531.5,437.7 532.0,437.7 532.5,437.7 533.0,437.7" stroke="#f00" stroke-width="2"/>
<polyline points="161.0,436.6 161.5,436.6 162.0,436.6 162.5,436.6 163.0,436.6 163.5,436.6 164.0,436.6 164.5,436.6 165.0,436.6 165.5,436.6 166.0,436.6 166.5,436.6 167.0,436.6 167.5,436.6 168.0,436.6 168.5,436.6 169.0,436.6 169.5,436.6 170.0,436.6 170.5,436.6 171.0,436.6 171.5,436.6 172.0,436.6 172.5,436.6 173.0,436.6 173.5,436.6 174.0,436.6 174.5,436.6 175.0,436.6 175.5,436.6 176.0,436.6 176.5,436.6 177.0,436.6 177.5,436.6 178.0,436.6 178.5,436.6 179.0,436.6 179.5,436.6 180.0,436.6 180.5,436.6 181.0,436.6 181.5,436.6 182.0,436.6 182.5,436.6 183.0,436.6 183.5,436.6 184.0,436.6 184.5,436.6 185.0,436.6 185.5,436.6 186.0,436.6 186.5,436.6 187.0,436.6 187.5,436.6 188.0,436.6 188.5,436.6 189.0,436.6 189.5,436.6 190.0,436.6 190.5,436.6 191.0,436.6 191.5,436.6 192.0,436.6 192.5,436.6 193.0,436.6 193.5,436.6 194.0,436.6 194.5,436.6 195.0,436.6 195.5,436.6 196.0,436.6 196.5,436.6 197.0,436.5 197.5,436.5 198.0,436.5 198.5,436.5 199.0,436.4 199.5,436.4 200.0,436.4 200.5,436.3 201.0,436.3 201.5,436.2 202.0,436.2 202.5,436.1 203.0,436.0 203.5,436.0 204.0,435.9 204.5,435.9 205.0,435.8 205.5,435.8 206.0,435.7 206.5,435.7 207.0,435.7 207.5,435.6 208.0,435.6 208.5,435.6 209.0,435.6 209.5,435.6 210.0,435.6 210.5,435.6 211.0,435.7 211.5,435.7 212.0,435.7 212.5,435.8 213.0,435.8 213.5,435.9 214.0,435.9 214.5,436.0 215.0,436.0 215.5,436.1 216.0,436.2 216.5,436.2 217.0,436.3 217.5,436.3 218.0,436.3 218.5,436.4 219.0,436.4 219.5,436.5 220.0,436.5 220.5,436.5 221.0,436.5 221.5,436.6 222.0,436.6 222.5,436.6 223.0,436.6 223.5,436.6 224.0,436.6 224.5,436.6 225.0,436.6 225.5,436.6 226.0,436.6 226.5,436.6 227.0,436.6 227.5,436.6 228.0,436.6 228.5,436.6 229.0,436.6 229.5,436.6 230.0,436.6 230.5,436.6 231.0,436.5 231.5,436.5 232.0,436.5 232.5,436.5 233.0,436.5 233.5,436.4 234.0,436.4 234.5,436.4 235.0,436.4 235.5,436.3 236.0,436.3 236.5,436.2 237.0,436.2 237.5,436.1 238.0,436.1 238.5,436.0 239.0,436.0 239.5,435.9 240.0,435.8 240.5,435.7 241.0,435.7 241.5,435.6 242.0,435.5 242.5,435.4 243.0,435.3 243.5,435.2 244.0,435.2 244.5,435.1 245.0,435.0 245.5,434.9 246.0,434.8 246.5,434.7 247.0,434.7 247.5,434.6 248.0,434.5 248.5,434.4 249.0,434.4 249.5,434.3 250.0,434.3 250.5,434.3 251.0,434.2 251.5,434.2 252.0,434.2 252.5,434.2 253.0,434.2 253.5,434.2 254.0,434.2 254.5,434.3 255.0,434.3 255.5,434.3 256.0,434.4 256.5,434.4 257.0,434.5 257.5,434.6 258.0,434.7 258.5,434.7 259.0,434.8 259.5,434.9 260.0,435.0 260.5,435.1 261.0,435.2 261.5,435.2 262.0,435.3 262.5,435.4 263.0,435.5 263.5,435.6 264.0,435.7 264.5,435.7 265.0,435.8 265.5,435.9 266.0,436.0 266.5,436.0 267.0,436.1 267.5,436.1 268.0,436.2 268.5,436.2 269.0,436.3 269.5,436.3 270.0,436.4 270.5,436.4 271.0,436.4 271.5,436.4 272.0,436.5 272.5,436.5 273.0,436.5 273.5,436.5 274.0,436.5 274.5,436.6 275.0,436.6 275.5,436.6 276.0,436.6 276.5,436.6 277.0,436.6 277.5,436.6 278.0,436.6 278.5,436.6 279.0,436.6 279.5,436.6 280.0,436.6 280.5,436.6 281.0,436.6 281.5,436.6 282.0,436.6 282.5,436.6 283.0,436.6 283.5,436.6 284.0,436.6 284.5,436.6 285.0,436.5 285.5,436.5 286.0,436.4 286.5,436.3 287.0,436.2 287.5,436.1 288.0,435.9 288.5,435.7 289.0,435.5 289.5,435.2 290.0,435.0 290.5,434.7 291.0,434.4 291.5,434.2 292.0,433.9 292.5,433.8 293.0,433.6 293.5,433.5 294.0,433.5 294.5,433.5 295.0,433.6 295.5,433.8 296.0,434.0 296.5,434.3 297.0,434.5 297.5,434.9 298.0,435.2 298.5,435.5 299.0,435.9 299.5,436.2 300.0,436.5 300.5,436.8 301.0,437.0 301.5,437.2 302.0,437.4 302.5,437.5 303.0,437.6 303.5,437.6 304.0,437.6 304.5,437.5 305.0,437.4 305.5,437.3 306.0,437.2 306.5,437.1 307.0,437.0 307.5,436.9 308.0,436.9 308.5,436.8 309.0,436.8 309.5,436.7 310.0,436.7 310.5,436.7 311.0,436.5 311.5,436.1 312.0,435.6 312.5,435.0 313.0,434.2 313.5,433.2 314.0,432.1 314.5,430.8 315.0,429.4 315.5,427.8 316.0,426.1 316.5,424.2 317.0,422.3 317.5,420.1 318.0,417.9 318.5,415.5 319.0,413.0 319.5,410.4 320.0,407.7 320.5,404.8 321.0,401.9 321.5,398.9 322.0,395.7 322.5,392.5 323.0,389.2 323.5,385.9 324.0,382.4 324.5,378.9 325.0,375.4 325.5,371.8 326.0,368.2 326.5,364.5 327.0,360.8 327.5,357.1 328.0,353.3 328.5,349.6 329.0,345.8 329.5,342.1 330.0,338.4 330.5,334.6 331.0,331.0 331.5,327.3 332.0,323.7 332.5,320.1 333.0,316.6 333.5,313.1 334.0,309.8 334.5,306.4 335.0,303.2 335.5,300.0 336.0,297.0 336.5,294.0 337.0,291.1 337.5,288.3 338.0,285.7 338.5,283.1 339.0,280.7 339.5,278.4 340.0,276.2 340.5,274.2 341.0,272.3 341.5,270.5 342.0,268.9 342.5,267.4 343.0,266.1 343.5,264.9 344.0,263.9 344.5,263.0 345.0,262.3 345.5,261.7 346.0,261.3 346.5,261.1 347.0,261.0 347.5,261.1 348.0,261.3 348.5,261.7 349.0,262.3 349.5,263.0 350.0,263.9 350.5,264.9 351.0,266.1 351.5,267.4 352.0,268.9 352.5,270.5 353.0,272.3 353.5,274.2 354.0,276.2 354.5,278.4 355.0,280.7 355.5,283.1 356.0,285.7 356.5,288.3 357.0,291.1 357.5,294.0 358.0,297.0 358.5,300.0 359.0,303.2 359.5,306.4 360.0,309.8 360.5,313.1 361.0,316.6 361.5,320.1 362.0,323.7 362.5,327.3 363.0,331.0 363.5,334.6 364.0,338.4 364.5,342.1 365.0,345.8 365.5,349.6 366.0,353.3 366.5,357.1 367.0,360.8 367.5,364.5 368.0,368.2 368.5,371.8 369.0,375.4 369.5,378.9 370.0,382.4 370.5,385.9 371.0,389.2 371.5,392.5 372.0,395.7 372.5,398.9 373.0,401.9 373.5,404.8 374.0,407.7 374.5,410.4 375.0,413.0 375.5,415.5 376.0,417.9 376.5,420.1 377.0,422.3 377.5,424.2 378.0,426.1 378.5,427.8 379.0,429.4 379.5,430.8 380.0,432.0 380.5,433.1 381.0,434.1 381.5,434.8 382.0,435.4 382.5,435.8 383.0,436.1 383.5,436.1 384.0,436.0 384.5,435.8 385.0,435.6 385.5,435.5 386.0,435.3 386.5,435.1 387.0,435.0 387.5,434.9 388.0,434.9 388.5,434.9 389.0,435.0 389.5,435.1 390.0,435.2 390.5,435.4 391.0,435.6 391.5,435.7 392.0,435.8 392.5,435.9 393.0,436.0 393.5,436.0 394.0,436.0 394.5,435.9 395.0,435.8 395.5,435.7 396.0,435.5 396.5,435.3 397.0,435.2 397.5,435.0 398.0,434.8 398.5,434.7 399.0,434.6 399.5,434.6 400.0,434.5 400.5,434.6 401.0,434.6 401.5,434.7 402.0,434.8 402.5,435.0 403.0,435.2 403.5,435.4 404.0,435.5 404.5,435.7 405.0,435.9 405.5,436.0 406.0,436.1 406.5,436.3 407.0,436.3 407.5,436.4 408.0,436.5 408.5,436.5 409.0,436.6 409.5,436.6 410.0,436.6 410.5,436.6 411.0,436.6 411.5,436.6 412.0,436.6 412.5,436.6 413.0,436.6 413.5,436.6 414.0,436.6 414.5,436.6 415.0,436.6 415.5,436.6 416.0,436.6 416.5,436.6 417.0,436.6 417.5,436.6 418.0,436.5 418.5,436.5 419.0,436.5 419.5,436.5 420.0,436.5 420.5,436.4 421.0,436.4 421.5,436.4 422.0,436.3 422.5,436.3 423.0,436.2 423.5,436.2 424.0,436.1 424.5,436.0 425.0,436.0 425.5,435.9 426.0,435.8 426.5,435.7 427.0,435.6 427.5,435.5 428.0,435.4 428.5,435.3 429.0,435.2 429.5,435.1 430.0,435.0 430.5,434.9 431.0,434.8 431.5,434.7 432.0,434.6 432.5,434.5 433.0,434.4 433.5,434.3 434.0,434.2 434.5,434.1 435.0,434.0 435.5,434.0 436.0,433.9 436.5,433.9 437.0,433.9 437.5,433.8 438.0,433.8 438.5,433.8 439.0,433.9 439.5,433.9 440.0,433.9 440.5,434.0 441.0,434.0 441.5,434.1 442.0,434.2 442.5,434.3 443.0,434.4 443.5,434.5 444.0,434.6 444.5,434.7 445.0,434.8 445.5,434.9 446.0,435.0 446.5,435.1 447.0,435.2 447.5,435.3 448.0,435.5 448.5,435.6 449.0,435.7 449.5,435.8 450.0,435.9 450.5,436.0 451.0,436.1 451.5,436.2 452.0,436.4 452.5,436.5 453.0,436.6 453.5,436.7 454.0,436.8 454.5,437.0 455.0,437.1 455.5,437.2 456.0,437.3 456.5,437.4 457.0,437.5 457.5,437.5 458.0,437.6 458.5,437.6 459.0,437.6 459.5,437.6 460.0,437.6 460.5,437.6 461.0,437.6 461.5,437.5 462.0,437.4 462.5,437.4 463.0,437.3 463.5,437.2 464.0,437.2 464.5,437.1 465.0,437.0 465.5,437.0 466.0,436.9 466.5,436.9 467.0,436.8 467.5,436.8 468.0,436.8 468.5,436.7 469.0,436.7 469.5,436.7 470.0,436.7 470.5,436.7 471.0,436.7 471.5,436.7 472.0,436.7 472.5,436.7 473.0,436.7 473.5,436.7 474.0,436.6 474.5,436.6 475.0,436.6 475.5,436.6 476.0,436.6 476.5,436.6 477.0,436.6 477.5,436.6 478.0,436.6 478.5,436.6 479.0,436.6 479.5,436.6 480.0,436.6 480.5,436.6 481.0,436.6 481.5,436.6 482.0,436.6 482.5,436.6 483.0,436.6 483.5,436.6 484.0,436.6 484.5,436.6 485.0,436.6 485.5,436.6 486.0,436.6 486.5,436.6 487.0,436.6 487.5,436.6 488.0,436.6 488.5,436.6 489.0,436.6 489.5,436.6 490.0,436.6 490.5,436.6 491.0,436.6 491.5,436.6 492.0,436.6 492.5,436.6 493.0,436.6 493.5,436.6 494.0,436.6 494.5,436.6 495.0,436.6 495.5,436.6 496.0,436.6 496.5,436.6 497.0,436.6 497.5,436.6 498.0,436.6 498.5,436.6 499.0,436.6 499.5,436.6 500.0,436.6 500.5,436.6 501.0,436.6 501.5,436.6 502.0,436.6 502.5,436.6 503.0,436.6 503.5,436.6 504.0,436.6 504.5,436.6 505.0,436.6 505.5,436.6 506.0,436.6 506.5,436.6 507.0,436.6 507.5,436.6 508.0,436.6 508.5,436.6 509.0,436.6 509.5,436.6 510.0,436.6 510.5,436.6 511.0,436.6 511.5,436.6 512.0,436.6 512.5,436.6 513.0,436.6 513.5,436.6 514.0,436.6 514.5,436.6 515.0,436.6 515.5,436.6 516.0,436.6 516.5,436.6 517.0,436.6 517.5,436.6 518.0,436.6 518.5,436.6 519.0,436.6 519.5,436.6 520.0,436.6 520.5,436.6 521.0,436.6 521.5,436.6 522.0,436.6 522.5,436.6 523.0,436.6 523.5,436.6 524.0,436.6 524.5,436.6 525.0,436.6 525.5,436.6 526.0,436.6 526.5,436.6 527.0,436.6 527.5,436.6 528.0,436.6 528.5,436.6 529.0,436.6 529.5,436.6 530.0,436.6 530.5,436.6 531.0,436.6 531.5,436.6 532.0,436.6 532.5,436.6 533.0,436.6" stroke="#00f" stroke-width="2"/>
<polyline points="161.0,436.1 161.5,436.1 162.0,436.1 162.5,436.1 163.0,436.1 163.5,436.1 164.0,436.1 164.5,436.1 165.0,436.1 165.5,436.1 166.0,436.1 166.5,436.1 167.0,436.1 167.5,436.1 168.0,436.1 168.5,436.1 169.0,436.1 169.5,436.1 170.0,436.1 170.5,436.1 171.0,436.1 171.5,436.1 172.0,436.1 172.5,436.1 173.0,436.1 173.5,436.1 174.0,436.1 174.5,436.1 175.0,436.1 175.5,436.1 176.0,436.1 176.5,436.1 177.0,436.1 177.5,436.1 178.0,436.1 178.5,436.1 179.0,436.1 179.5,436.1 180.0,436.1 180.5,436.1 181.0,436.1 181.5,436.1 182.0,436.1 182.5,436.1 183.0,436.1 183.5,436.1 184.0,436.1 184.5,436.1 185.0,436.1 185.5,436.1 186.0,436.1 186.5,436.1 187.0,436.1 187.5,436.1 188.0,436.1 188.5,436.1 189.0,436.1 189.5,436.1 190.0,436.1 190.5,436.1 191.0,436.1 191.5,436.1 192.0,436.1 192.5,436.1 193.0,436.1 193.5,436.1 194.0,436.1 194.5,436.1 195.0,436.1 195.5,436.1 196.0,436.1 196.5,436.1 197.0,436.1 197.5,436.1 198.0,436.1 198.5,436.1 199.0,436.1 199.5,436.1 200.0,436.1 200.5,436.1 201.0,436.1 201.5,436.1 202.0,436.1 202.5,436.1 203.0,436.1 203.5,436.1 204.0,436.1 204.5,436.1 205.0,436.1 205.5,436.1 206.0,436.1 206.5,436.1 207.0,436.1 207.5,436.1 208.0,436.1 208.5,436.1 209.0,436.1 209.5,436.1 210.0,436.1 210.5,436.1 211.0,436.1 211.5,436.1 212.0,436.1 212.5,436.1 213.0,436.1 213.5,436.1 214.0,436.1 214.5,436.1 215.0,436.1 215.5,436.1 216.0,436.1 216.5,436.1 217.0,436.1 217.5,436.1 218.0,436.1 218.5,436.1 219.0,436.1 219.5,436.1 220.0,436.1 220.5,436.1 221.0,436.1 221.5,436.1 222.0,436.1 222.5,436.1 223.0,436.0 223.5,436.0 224.0,436.0 224.5,436.0 225.0,436.0 225.5,436.0 226.0,436.0 226.5,435.9 227.0,435.9 227.5,435.9 228.0,435.9 228.5,435.8 229.0,435.8 229.5,435.8 230.0,435.7 230.5,435.7 231.0,435.6 231.5,435.6 232.0,435.5 232.5,435.4 233.0,435.4 233.5,435.3 234.0,435.2 234.5,435.2 235.0,435.1 235.5,435.0 236.0,434.9 236.5,434.8 237.0,434.7 237.5,434.6 238.0,434.5 238.5,434.4 239.0,434.3 239.5,434.1 240.0,434.0 240.5,433.9 241.0,433.8 241.5,433.7 242.0,433.6 242.5,433.4 243.0,433.3 243.5,433.2 244.0,433.1 244.5,433.0 245.0,432.9 245.5,432.8 246.0,432.7 246.5,432.6 247.0,432.6 247.5,432.5 248.0,432.4 248.5,432.4 249.0,432.3 249.5,432.3 250.0,432.3 250.5,432.3 251.0,432.2 251.5,432.3 252.0,432.3 252.5,432.3 253.0,432.3 253.5,432.4 254.0,432.4 254.5,432.5 255.0,432.6 255.5,432.6 256.0,432.7 256.5,432.8 257.0,432.9 257.5,433.0 258.0,433.1 258.5,433.2 259.0,433.3 259.5,433.4 260.0,433.6 260.5,433.7 261.0,433.8 261.5,433.9 262.0,434.0 262.5,434.1 263.0,434.3 263.5,434.4 264.0,434.5 264.5,434.6 265.0,434.7 265.5,434.8 266.0,434.9 266.5,435.0 267.0,435.1 267.5,435.2 268.0,435.2 268.5,435.3 269.0,435.4 269.5,435.4 270.0,435.5 270.5,435.6 271.0,435.6 271.5,435.7 272.0,435.7 272.5,435.7 273.0,435.8 273.5,435.8 274.0,435.8 274.5,435.8 275.0,435.8 275.5,435.8 276.0,435.8 276.5,435.8 277.0,435.7 277.5,435.7 278.0,435.6 278.5,435.6 279.0,435.5 279.5,435.4 280.0,435.3 280.5,435.3 281.0,435.2 281.5,435.1 282.0,435.1 282.5,435.0 283.0,435.0 283.5,435.1 284.0,435.1 284.5,435.1 285.0,435.2 285.5,435.3 286.0,435.4 286.5,435.5 287.0,435.6 287.5,435.6 288.0,435.7 288.5,435.7 289.0,435.7 289.5,435.6 290.0,435.4 290.5,435.1 291.0,434.8 291.5,434.4 292.0,433.9 292.5,433.4 293.0,432.8 293.5,432.1 294.0,431.4 294.5,430.6 295.0,429.8 295.5,428.9 296.0,428.0 296.5,427.0 297.0,425.9 297.5,424.8 298.0,423.6 298.5,422.4 299.0,421.1 299.5,419.8 300.0,418.4 300.5,417.0 301.0,415.5 301.5,414.0 302.0,412.4 302.5,410.8 303.0,409.1 303.5,407.4 304.0,405.7 304.5,403.9 305.0,402.1 305.5,400.3 306.0,398.4 306.5,396.4 307.0,394.5 307.5,392.5 308.0,390.4 308.5,388.4 309.0,386.3 309.5,384.2 310.0,382.1 310.5,379.9 311.0,377.7 311.5,375.5 312.0,373.3 312.5,371.1 313.0,368.8 313.5,366.6 314.0,364.3 314.5,362.0 315.0,359.7 315.5,357.4 316.0,355.1 316.5,352.7 317.0,350.4 317.5,348.1 318.0,345.8 318.5,343.5 319.0,341.1 319.5,338.8 320.0,336.5 320.5,334.2 321.0,331.9 321.5,329.7 322.0,327.4 322.5,325.2 323.0,322.9 323.5,320.7 324.0,318.5 324.5,316.3 325.0,314.2 325.5,312.1 326.0,310.0 326.5,307.9 327.0,305.9 327.5,303.8 328.0,301.9 328.5,299.9 329.0,298.0 329.5,296.1 330.0,294.3 330.5,292.5 331.0,290.7 331.5,289.0 332.0,287.3 332.5,285.7 333.0,284.1 333.5,282.5 334.0,281.0 334.5,279.6 335.0,278.2 335.5,276.8 336.0,275.5 336.5,274.2 337.0,273.0 337.5,271.9 338.0,270.8 338.5,269.8 339.0,268.8 339.5,267.8 340.0,267.0 340.5,266.2 341.0,265.4 341.5,264.7 342.0,264.1 342.5,263.5 343.0,263.0 343.5,262.5 344.0,262.1 344.5,261.8 345.0,261.5 345.5,261.3 346.0,261.1 346.5,261.0 347.0,261.0 347.5,261.0 348.0,261.1 348.5,261.3 349.0,261.5 349.5,261.8 350.0,262.1 350.5,262.5 351.0,263.0 351.5,263.5 352.0,264.1 352.5,264.7 353.0,265.4 353.5,266.2 354.0,267.0 354.5,267.8 355.0,268.8 355.5,269.8 356.0,270.8 356.5,271.9 357.0,273.0 357.5,274.2 358.0,275.5 358.5,276.8 359.0,278.2 359.5,279.6 360.0,281.0 360.5,282.5 361.0,284.1 361.5,285.7 362.0,287.3 362.5,289.0 363.0,290.7 363.5,292.5 364.0,294.3 364.5,296.1 365.0,298.0 365.5,299.9 366.0,301.9 366.5,303.8 367.0,305.9 367.5,307.9 368.0,310.0 368.5,312.1 369.0,314.2 369.5,316.3 370.0,318.5 370.5,320.7 371.0,322.9 371.5,325.2 372.0,327.4 372.5,329.7 373.0,331.9 373.5,334.2 374.0,336.5 374.5,338.8 375.0,341.1 375.5,343.5 376.0,345.8 376.5,348.1 377.0,350.4 377.5,352.7 378.0,355.1 378.5,357.4 379.0,359.7 379.5,362.0 380.0,364.3 380.5,366.6 381.0,368.8 381.5,371.1 382.0,373.3 382.5,375.5 383.0,377.7 383.5,379.9 384.0,382.1 384.5,384.2 385.0,386.3 385.5,388.4 386.0,390.4 386.5,392.5 387.0,394.5 387.5,396.4 388.0,398.4 388.5,400.3 389.0,402.1 389.5,403.9 390.0,405.7 390.5,407.4 391.0,409.1 391.5,410.8 392.0,412.4 392.5,414.0 393.0,415.5 393.5,417.0 394.0,418.4 394.5,419.8 395.0,421.1 395.5,422.4 396.0,423.6 396.5,424.8 397.0,425.9 397.5,427.0 398.0,428.0 398.5,428.9 399.0,429.8 399.5,430.6 400.0,431.4 400.5,432.1 401.0,432.8 401.5,433.4 402.0,433.9 402.5,434.3 403.0,434.7 403.5,435.0 404.0,435.3 404.5,435.4 405.0,435.6 405.5,435.6 406.0,435.6 406.5,435.5 407.0,435.4 407.5,435.3 408.0,435.2 408.5,435.1 409.0,435.1 409.5,435.1 410.0,435.0 410.5,435.1 411.0,435.1 411.5,435.1 412.0,435.2 412.5,435.3 413.0,435.3 413.5,435.4 414.0,435.5 414.5,435.6 415.0,435.7 415.5,435.7 416.0,435.8 416.5,435.8 417.0,435.8 417.5,435.8 418.0,435.9 418.5,435.9 419.0,435.8 419.5,435.8 420.0,435.8 420.5,435.8 421.0,435.7 421.5,435.7 422.0,435.7 422.5,435.6 423.0,435.5 423.5,435.5 424.0,435.4 424.5,435.4 425.0,435.3 425.5,435.2 426.0,435.1 426.5,435.0 427.0,434.9 427.5,434.8 428.0,434.7 428.5,434.6 429.0,434.5 429.5,434.4 430.0,434.3 430.5,434.1 431.0,434.0 431.5,433.9 432.0,433.7 432.5,433.6 433.0,433.5 433.5,433.3 434.0,433.2 434.5,433.1 435.0,432.9 435.5,432.8 436.0,432.7 436.5,432.6 437.0,432.5 437.5,432.3 438.0,432.2 438.5,432.2 439.0,432.1 439.5,432.0 440.0,431.9 440.5,431.9 441.0,431.8 441.5,431.8 442.0,431.7 442.5,431.7 443.0,431.7 443.5,431.7 444.0,431.7 444.5,431.8 445.0,431.8 445.5,431.9 446.0,431.9 446.5,432.0 447.0,432.1 447.5,432.2 448.0,432.2 448.5,432.3 449.0,432.5 449.5,432.6 450.0,432.7 450.5,432.8 451.0,432.9 451.5,433.1 452.0,433.2 452.5,433.3 453.0,433.5 453.5,433.6 454.0,433.7 454.5,433.9 455.0,434.0 455.5,434.1 456.0,434.3 456.5,434.4 457.0,434.5 457.5,434.6 458.0,434.7 458.5,434.8 459.0,434.9 459.5,435.0 460.0,435.1 460.5,435.2 461.0,435.3 461.5,435.4 462.0,435.4 462.5,435.5 463.0,435.5 463.5,435.6 464.0,435.7 464.5,435.7 465.0,435.7 465.5,435.8 466.0,435.8 466.5,435.9 467.0,435.9 467.5,435.9 468.0,435.9 468.5,436.0 469.0,436.0 469.5,436.0 470.0,436.0 470.5,436.0 471.0,436.0 471.5,436.1 472.0,436.1 472.5,436.1 473.0,436.1 473.5,436.1 474.0,436.1 474.5,436.1 475.0,436.1 475.5,436.1 476.0,436.1 476.5,436.1 477.0,436.1 477.5,436.1 478.0,436.1 478.5,436.1 479.0,436.1 479.5,436.1 480.0,436.1 480.5,436.1 481.0,436.1 481.5,436.1 482.0,436.1 482.5,436.1 483.0,436.1 483.5,436.1 484.0,436.1 484.5,436.1 485.0,436.1 485.5,436.1 486.0,436.1 486.5,436.1 487.0,436.1 487.5,436.1 488.0,436.1 488.5,436.1 489.0,436.1 489.5,436.1 490.0,436.1 490.5,436.1 491.0,436.1 491.5,436.1 492.0,436.1 492.5,436.1 493.0,436.1 493.5,436.1 494.0,436.1 494.5,436.1 495.0,436.1 495.5,436.1 496.0,436.1 496.5,436.1 497.0,436.1 497.5,436.1 498.0,436.1 498.5,436.1 499.0,436.1 499.5,436.1 500.0,436.1 500.5,436.1 501.0,436.1 501.5,436.1 502.0,436.1 502.5,436.1 503.0,436.1 503.5,436.1 504.0,436.1 504.5,436.1 505.0,436.1 505.5,436.1 506.0,436.1 506.5,436.1 507.0,436.1 507.5,436.1 508.0,436.1 508.5,436.1 509.0,436.1 509.5,436.1 510.0,436.1 510.5,436.1 511.0,436.1 511.5,436.1 512.0,436.1 512.5,436.1 513.0,436.1 513.5,436.1 514.0,436.1 514.5,436.1 515.0,436.1 515.5,436.1 516.0,436.1 516.5,436.1 517.0,436.1 517.5,436.1 518.0,436.1 518.5,436.1 519.0,436.1 519.5,436.1 520.0,436.1 520.5,436.1 521.0,436.1 521.5,436.1 522.0,436.1 522.5,436.1 523.0,436.1 523.5,436.1 524.0,436.1 524.5,436.1 525.0,436.1 525.5,436.1 526.0,436.1 526.5,436.1 527.0,436.1 527.5,436.1 528.0,436.1 528.5,436.1 529.0,436.1 529.5,436.1 530.0,436.1 530.5,436.1 531.0,436.1 531.5,436.1 532.0,436.1 532.5,436.1 533.0,436.1" stroke="#f0f" stroke-width="2"/>
</g>
<rect x="161.5" y="243.5" width="371.5" height="211" fill="none" stroke="#000" stroke-width="2"/>
<path d="M160.8,454.5v-2.5M160.8,243.5v2.5M187.4,454.5v-4.5M187.4,243.5v4.5M214.0,454.5v-2.5M214.0,243.5v2.5M240.6,454.5v-4.5M240.6,243.5v4.5M267.2,454.5v-2.5M267.2,243.5v2.5M293.8,454.5v-4.5M293.8,243.5v4.5M320.4,454.5v-2.5M320.4,243.5v2.5M347.0,454.5v-4.5M347.0,243.5v4.5M373.6,454.5v-2.5M373.6,243.5v2.5M400.2,454.5v-4.5M400.2,243.5v4.5M426.8,454.5v-2.5M426.8,243.5v2.5M453.4,454.5v-4.5M453.4,243.5v4.5M480.0,454.5v-2.5M480.0,243.5v2.5M506.6,454.5v-4.5M506.6,243.5v4.5M533.2,454.5v-2.5M533.2,243.5v2.5M161.5,437.0h4.5M533,437.0h-4.5M161.5,419.4h2.5M533,419.4h-2.5M161.5,401.8h4.5M533,401.8h-4.5M161.5,384.2h2.5M533,384.2h-2.5M161.5,366.6h4.5M533,366.6h-4.5M161.5,349.0h2.5M533,349.0h-2.5M161.5,331.4h4.5M533,331.4h-4.5M161.5,313.8h2.5M533,313.8h-2.5M161.5,296.2h4.5M533,296.2h-4.5M161.5,278.6h2.5M533,278.6h-2.5M161.5,261.0h4.5M533,261.0h-4.5M161.5,454.6h2.5M533,454.6h-2.5" stroke="#000" stroke-width="1.6" fill="none"/>
<text x="172.3" y="269.5" font-size="16.5" textLength="21.8" lengthAdjust="spacingAndGlyphs">(e)</text>
<g font-size="20" text-anchor="end">
<text x="154.6" y="443.5">0.0</text>
<text x="154.6" y="408.1">0.2</text>
<text x="154.6" y="372.6">0.4</text>
<text x="154.6" y="337.1">0.6</text>
<text x="154.6" y="301.7">0.8</text>
<text x="154.6" y="266.2">1.0</text>
</g>
<g font-size="20" text-anchor="middle">
<text x="185.8" y="477">-0.6</text>
<text x="239" y="477">-0.4</text>
<text x="292.3" y="477">-0.2</text>
<text x="347" y="477">0.0</text>
<text x="400.2" y="477">0.2</text>
<text x="453.4" y="477">0.4</text>
<text x="506.6" y="477">0.6</text>
</g>
<text x="318.5" y="494.5" font-size="18.5" textLength="56.5" lengthAdjust="spacingAndGlyphs">x (μm)</text>
<text transform="translate(122.5,479.4) rotate(-90)" font-size="19.85">Reflected power flow (a.u.)</text>

<!-- legend -->
<g stroke-width="1.8">
<line x1="204" y1="286.8" x2="221.8" y2="286.8" stroke="#000"/>
<line x1="204" y1="305.9" x2="221.8" y2="305.9" stroke="#f00"/>
<line x1="204" y1="325.1" x2="221.8" y2="325.1" stroke="#00f"/>
<line x1="204" y1="344.7" x2="221.8" y2="344.7" stroke="#f0f"/>
</g>
<g font-size="14">
<text x="233" y="292">f = 1</text><text x="265.6" y="292" textLength="20.6" lengthAdjust="spacingAndGlyphs">μm</text>
<g fill="#e81010"><text x="233" y="311">f = 2</text><text x="265.6" y="311" textLength="20.6" lengthAdjust="spacingAndGlyphs">μm</text></g>
<g fill="#1818d0"><text x="233" y="330.2">f = 5</text><text x="265.6" y="330.2" textLength="20.6" lengthAdjust="spacingAndGlyphs">μm</text></g>
<g fill="#e020e0"><text x="233" y="349.5">f = 10</text><text x="274.4" y="349.5" textLength="20.6" lengthAdjust="spacingAndGlyphs">μm</text></g>
</g>
<g font-size="14">
<text x="375.5" y="277.4" font-style="italic">N.A.</text><text x="406.5" y="277.4" textLength="9" lengthAdjust="spacingAndGlyphs">=</text>
<text x="451" y="277.4" textLength="45" lengthAdjust="spacingAndGlyphs">FWHM</text><text x="500.6" y="277.4" textLength="9" lengthAdjust="spacingAndGlyphs">=</text>
</g>
<g font-size="14.6" text-anchor="end">
<text x="426.5" y="295.4">0.971</text>
<text x="426.5" y="313.4" fill="#e81010">0.898</text>
<text x="426.5" y="331.4" fill="#1818d0">0.632</text>
<text x="426.5" y="349.4" fill="#e020e0">0.401</text>
<text x="516.5" y="295.4">105 nm</text>
<text x="516.5" y="313.4" fill="#e81010">112 nm</text>
<text x="516.5" y="331.4" fill="#1818d0">160 nm</text>
<text x="516.5" y="349.4" fill="#e020e0">250 nm</text>
</g>
</svg>
</body></html>
